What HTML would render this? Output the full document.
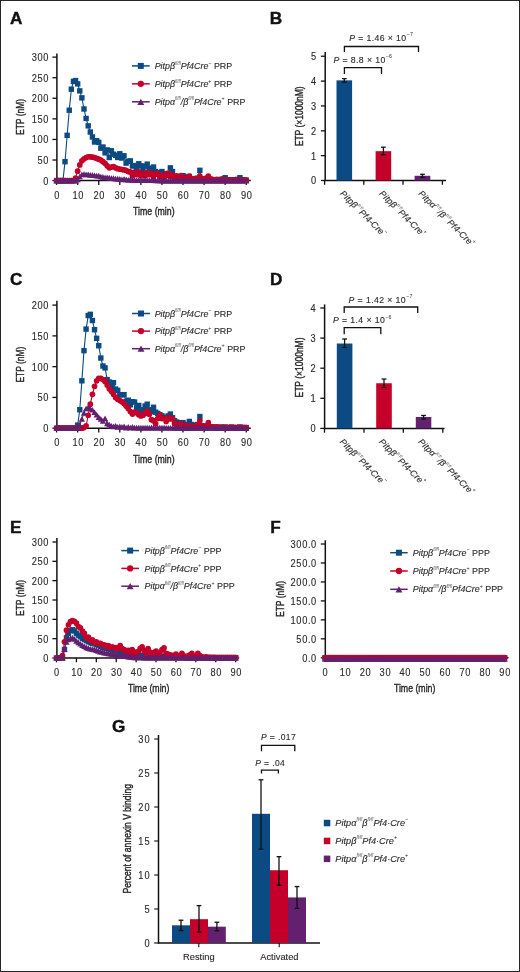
<!DOCTYPE html>
<html><head><meta charset="utf-8"><style>
html,body{margin:0;padding:0;background:#fff;}
body{width:520px;height:972px;position:relative;overflow:hidden;font-family:"Liberation Sans", sans-serif;}
svg{will-change:transform;}
.frame{position:absolute;left:0;top:0;width:518px;height:970px;border:1px solid #262626;pointer-events:none;}
</style></head><body>
<svg width="520" height="972" viewBox="0 0 520 972" style="position:absolute;left:0;top:0;font-family:'Liberation Sans', sans-serif">
<rect x="0" y="0" width="520" height="972" fill="#fff"/>
<g>
<text x="9.90" y="23.90" font-size="17.2" text-anchor="start" fill="#111" font-weight="bold" font-style="normal" stroke="#111" stroke-width="0.4">A</text>
<line x1="56.9" y1="53.4" x2="56.9" y2="181.1" stroke="#111111" stroke-width="1.5"/>
<line x1="56.3" y1="180.6" x2="250.8" y2="180.6" stroke="#111111" stroke-width="1.5"/>
<line x1="52.4" y1="180.60" x2="56.9" y2="180.60" stroke="#111111" stroke-width="1.3"/>
<text transform="translate(49.10,184.50) scale(0.9,1)" x="0" y="0" font-size="10.3" text-anchor="end" fill="#2a2a2a" font-weight="normal" font-style="normal" letter-spacing="0.7" stroke="#2a2a2a" stroke-width="0.12">0</text>
<line x1="52.4" y1="160.02" x2="56.9" y2="160.02" stroke="#111111" stroke-width="1.3"/>
<text transform="translate(49.10,163.92) scale(0.9,1)" x="0" y="0" font-size="10.3" text-anchor="end" fill="#2a2a2a" font-weight="normal" font-style="normal" letter-spacing="0.7" stroke="#2a2a2a" stroke-width="0.12">50</text>
<line x1="52.4" y1="139.44" x2="56.9" y2="139.44" stroke="#111111" stroke-width="1.3"/>
<text transform="translate(49.10,143.34) scale(0.9,1)" x="0" y="0" font-size="10.3" text-anchor="end" fill="#2a2a2a" font-weight="normal" font-style="normal" letter-spacing="0.7" stroke="#2a2a2a" stroke-width="0.12">100</text>
<line x1="52.4" y1="118.86" x2="56.9" y2="118.86" stroke="#111111" stroke-width="1.3"/>
<text transform="translate(49.10,122.76) scale(0.9,1)" x="0" y="0" font-size="10.3" text-anchor="end" fill="#2a2a2a" font-weight="normal" font-style="normal" letter-spacing="0.7" stroke="#2a2a2a" stroke-width="0.12">150</text>
<line x1="52.4" y1="98.28" x2="56.9" y2="98.28" stroke="#111111" stroke-width="1.3"/>
<text transform="translate(49.10,102.18) scale(0.9,1)" x="0" y="0" font-size="10.3" text-anchor="end" fill="#2a2a2a" font-weight="normal" font-style="normal" letter-spacing="0.7" stroke="#2a2a2a" stroke-width="0.12">200</text>
<line x1="52.4" y1="77.70" x2="56.9" y2="77.70" stroke="#111111" stroke-width="1.3"/>
<text transform="translate(49.10,81.60) scale(0.9,1)" x="0" y="0" font-size="10.3" text-anchor="end" fill="#2a2a2a" font-weight="normal" font-style="normal" letter-spacing="0.7" stroke="#2a2a2a" stroke-width="0.12">250</text>
<line x1="52.4" y1="57.12" x2="56.9" y2="57.12" stroke="#111111" stroke-width="1.3"/>
<text transform="translate(49.10,61.02) scale(0.9,1)" x="0" y="0" font-size="10.3" text-anchor="end" fill="#2a2a2a" font-weight="normal" font-style="normal" letter-spacing="0.7" stroke="#2a2a2a" stroke-width="0.12">300</text>
<line x1="56.60" y1="180.6" x2="56.60" y2="184.9" stroke="#111111" stroke-width="1.3"/>
<text transform="translate(57.10,198.70) scale(0.9,1)" x="0" y="0" font-size="10.3" text-anchor="middle" fill="#2a2a2a" font-weight="normal" font-style="normal" letter-spacing="0.7" stroke="#2a2a2a" stroke-width="0.12">0</text>
<line x1="77.67" y1="180.6" x2="77.67" y2="184.9" stroke="#111111" stroke-width="1.3"/>
<text transform="translate(78.17,198.70) scale(0.9,1)" x="0" y="0" font-size="10.3" text-anchor="middle" fill="#2a2a2a" font-weight="normal" font-style="normal" letter-spacing="0.7" stroke="#2a2a2a" stroke-width="0.12">10</text>
<line x1="98.74" y1="180.6" x2="98.74" y2="184.9" stroke="#111111" stroke-width="1.3"/>
<text transform="translate(99.24,198.70) scale(0.9,1)" x="0" y="0" font-size="10.3" text-anchor="middle" fill="#2a2a2a" font-weight="normal" font-style="normal" letter-spacing="0.7" stroke="#2a2a2a" stroke-width="0.12">20</text>
<line x1="119.81" y1="180.6" x2="119.81" y2="184.9" stroke="#111111" stroke-width="1.3"/>
<text transform="translate(120.31,198.70) scale(0.9,1)" x="0" y="0" font-size="10.3" text-anchor="middle" fill="#2a2a2a" font-weight="normal" font-style="normal" letter-spacing="0.7" stroke="#2a2a2a" stroke-width="0.12">30</text>
<line x1="140.88" y1="180.6" x2="140.88" y2="184.9" stroke="#111111" stroke-width="1.3"/>
<text transform="translate(141.38,198.70) scale(0.9,1)" x="0" y="0" font-size="10.3" text-anchor="middle" fill="#2a2a2a" font-weight="normal" font-style="normal" letter-spacing="0.7" stroke="#2a2a2a" stroke-width="0.12">40</text>
<line x1="161.95" y1="180.6" x2="161.95" y2="184.9" stroke="#111111" stroke-width="1.3"/>
<text transform="translate(162.45,198.70) scale(0.9,1)" x="0" y="0" font-size="10.3" text-anchor="middle" fill="#2a2a2a" font-weight="normal" font-style="normal" letter-spacing="0.7" stroke="#2a2a2a" stroke-width="0.12">50</text>
<line x1="183.02" y1="180.6" x2="183.02" y2="184.9" stroke="#111111" stroke-width="1.3"/>
<text transform="translate(183.52,198.70) scale(0.9,1)" x="0" y="0" font-size="10.3" text-anchor="middle" fill="#2a2a2a" font-weight="normal" font-style="normal" letter-spacing="0.7" stroke="#2a2a2a" stroke-width="0.12">60</text>
<line x1="204.09" y1="180.6" x2="204.09" y2="184.9" stroke="#111111" stroke-width="1.3"/>
<text transform="translate(204.59,198.70) scale(0.9,1)" x="0" y="0" font-size="10.3" text-anchor="middle" fill="#2a2a2a" font-weight="normal" font-style="normal" letter-spacing="0.7" stroke="#2a2a2a" stroke-width="0.12">70</text>
<line x1="225.16" y1="180.6" x2="225.16" y2="184.9" stroke="#111111" stroke-width="1.3"/>
<text transform="translate(225.66,198.70) scale(0.9,1)" x="0" y="0" font-size="10.3" text-anchor="middle" fill="#2a2a2a" font-weight="normal" font-style="normal" letter-spacing="0.7" stroke="#2a2a2a" stroke-width="0.12">80</text>
<line x1="246.23" y1="180.6" x2="246.23" y2="184.9" stroke="#111111" stroke-width="1.3"/>
<text transform="translate(246.73,198.70) scale(0.9,1)" x="0" y="0" font-size="10.3" text-anchor="middle" fill="#2a2a2a" font-weight="normal" font-style="normal" letter-spacing="0.7" stroke="#2a2a2a" stroke-width="0.12">90</text>
<path d="M56.60,180.60L58.71,180.60L60.81,180.60L62.92,180.60L65.03,161.67L67.14,135.32L69.24,110.22L71.35,89.22L73.46,81.40L75.56,80.58L77.67,83.87L79.78,90.87L81.88,97.87L83.99,108.98L86.10,118.45L88.21,125.86L90.31,132.03L92.42,136.97L94.53,141.99L96.63,140.72L98.74,142.38L100.85,148.17L102.95,147.01L105.06,152.82L107.17,149.92L109.28,157.53L111.38,150.76L113.49,154.22L115.60,155.37L117.70,157.49L119.81,153.76L121.92,158.06L124.02,155.80L126.13,163.11L128.24,161.28L130.34,160.90L132.45,166.01L134.56,165.51L136.67,167.51L138.77,163.77L140.88,165.84L142.99,169.49L145.09,166.19L147.20,164.14L149.31,168.25L151.42,170.31L153.52,167.02L155.63,171.54L157.74,172.78L159.84,173.19L161.95,171.54L164.06,173.60L166.16,175.66L168.27,174.43L170.38,167.84L172.49,171.54L174.59,176.48L176.70,177.31L178.81,178.54L180.91,177.31L183.02,175.66L185.13,178.13L187.23,176.90L189.34,176.48L191.45,178.95L193.56,179.37L195.66,178.54L197.77,178.13L199.88,170.31L201.98,178.95L204.09,179.37L206.20,179.78L208.30,179.37L210.41,179.78L212.52,180.19L214.62,179.78L216.73,180.19L218.84,179.78L220.95,179.37L223.05,178.95L225.16,177.72L227.27,179.78L229.37,180.19L231.48,179.78L233.59,180.19L235.70,179.78L237.80,179.37L239.91,177.72L242.02,179.78L244.12,180.19L246.23,180.19" fill="none" stroke="#0b4a82" stroke-width="1.1" stroke-linejoin="round"/>
<rect x="53.90" y="177.90" width="5.4" height="5.4" fill="#0b4a82"/>
<rect x="56.01" y="177.90" width="5.4" height="5.4" fill="#0b4a82"/>
<rect x="58.11" y="177.90" width="5.4" height="5.4" fill="#0b4a82"/>
<rect x="60.22" y="177.90" width="5.4" height="5.4" fill="#0b4a82"/>
<rect x="62.33" y="158.97" width="5.4" height="5.4" fill="#0b4a82"/>
<rect x="64.44" y="132.62" width="5.4" height="5.4" fill="#0b4a82"/>
<rect x="66.54" y="107.52" width="5.4" height="5.4" fill="#0b4a82"/>
<rect x="68.65" y="86.52" width="5.4" height="5.4" fill="#0b4a82"/>
<rect x="70.76" y="78.70" width="5.4" height="5.4" fill="#0b4a82"/>
<rect x="72.86" y="77.88" width="5.4" height="5.4" fill="#0b4a82"/>
<rect x="74.97" y="81.17" width="5.4" height="5.4" fill="#0b4a82"/>
<rect x="77.08" y="88.17" width="5.4" height="5.4" fill="#0b4a82"/>
<rect x="79.18" y="95.17" width="5.4" height="5.4" fill="#0b4a82"/>
<rect x="81.29" y="106.28" width="5.4" height="5.4" fill="#0b4a82"/>
<rect x="83.40" y="115.75" width="5.4" height="5.4" fill="#0b4a82"/>
<rect x="85.51" y="123.16" width="5.4" height="5.4" fill="#0b4a82"/>
<rect x="87.61" y="129.33" width="5.4" height="5.4" fill="#0b4a82"/>
<rect x="89.72" y="134.27" width="5.4" height="5.4" fill="#0b4a82"/>
<rect x="91.83" y="139.29" width="5.4" height="5.4" fill="#0b4a82"/>
<rect x="93.93" y="138.02" width="5.4" height="5.4" fill="#0b4a82"/>
<rect x="96.04" y="139.68" width="5.4" height="5.4" fill="#0b4a82"/>
<rect x="98.15" y="145.47" width="5.4" height="5.4" fill="#0b4a82"/>
<rect x="100.25" y="144.31" width="5.4" height="5.4" fill="#0b4a82"/>
<rect x="102.36" y="150.12" width="5.4" height="5.4" fill="#0b4a82"/>
<rect x="104.47" y="147.22" width="5.4" height="5.4" fill="#0b4a82"/>
<rect x="106.58" y="154.83" width="5.4" height="5.4" fill="#0b4a82"/>
<rect x="108.68" y="148.06" width="5.4" height="5.4" fill="#0b4a82"/>
<rect x="110.79" y="151.52" width="5.4" height="5.4" fill="#0b4a82"/>
<rect x="112.90" y="152.67" width="5.4" height="5.4" fill="#0b4a82"/>
<rect x="115.00" y="154.79" width="5.4" height="5.4" fill="#0b4a82"/>
<rect x="117.11" y="151.06" width="5.4" height="5.4" fill="#0b4a82"/>
<rect x="119.22" y="155.36" width="5.4" height="5.4" fill="#0b4a82"/>
<rect x="121.32" y="153.10" width="5.4" height="5.4" fill="#0b4a82"/>
<rect x="123.43" y="160.41" width="5.4" height="5.4" fill="#0b4a82"/>
<rect x="125.54" y="158.58" width="5.4" height="5.4" fill="#0b4a82"/>
<rect x="127.64" y="158.20" width="5.4" height="5.4" fill="#0b4a82"/>
<rect x="129.75" y="163.31" width="5.4" height="5.4" fill="#0b4a82"/>
<rect x="131.86" y="162.81" width="5.4" height="5.4" fill="#0b4a82"/>
<rect x="133.97" y="164.81" width="5.4" height="5.4" fill="#0b4a82"/>
<rect x="136.07" y="161.07" width="5.4" height="5.4" fill="#0b4a82"/>
<rect x="138.18" y="163.14" width="5.4" height="5.4" fill="#0b4a82"/>
<rect x="140.29" y="166.79" width="5.4" height="5.4" fill="#0b4a82"/>
<rect x="142.39" y="163.49" width="5.4" height="5.4" fill="#0b4a82"/>
<rect x="144.50" y="161.44" width="5.4" height="5.4" fill="#0b4a82"/>
<rect x="146.61" y="165.55" width="5.4" height="5.4" fill="#0b4a82"/>
<rect x="148.72" y="167.61" width="5.4" height="5.4" fill="#0b4a82"/>
<rect x="150.82" y="164.32" width="5.4" height="5.4" fill="#0b4a82"/>
<rect x="152.93" y="168.84" width="5.4" height="5.4" fill="#0b4a82"/>
<rect x="155.04" y="170.08" width="5.4" height="5.4" fill="#0b4a82"/>
<rect x="157.14" y="170.49" width="5.4" height="5.4" fill="#0b4a82"/>
<rect x="159.25" y="168.84" width="5.4" height="5.4" fill="#0b4a82"/>
<rect x="161.36" y="170.90" width="5.4" height="5.4" fill="#0b4a82"/>
<rect x="163.46" y="172.96" width="5.4" height="5.4" fill="#0b4a82"/>
<rect x="165.57" y="171.73" width="5.4" height="5.4" fill="#0b4a82"/>
<rect x="167.68" y="165.14" width="5.4" height="5.4" fill="#0b4a82"/>
<rect x="169.79" y="168.84" width="5.4" height="5.4" fill="#0b4a82"/>
<rect x="171.89" y="173.78" width="5.4" height="5.4" fill="#0b4a82"/>
<rect x="174.00" y="174.61" width="5.4" height="5.4" fill="#0b4a82"/>
<rect x="176.11" y="175.84" width="5.4" height="5.4" fill="#0b4a82"/>
<rect x="178.21" y="174.61" width="5.4" height="5.4" fill="#0b4a82"/>
<rect x="180.32" y="172.96" width="5.4" height="5.4" fill="#0b4a82"/>
<rect x="182.43" y="175.43" width="5.4" height="5.4" fill="#0b4a82"/>
<rect x="184.53" y="174.20" width="5.4" height="5.4" fill="#0b4a82"/>
<rect x="186.64" y="173.78" width="5.4" height="5.4" fill="#0b4a82"/>
<rect x="188.75" y="176.25" width="5.4" height="5.4" fill="#0b4a82"/>
<rect x="190.86" y="176.67" width="5.4" height="5.4" fill="#0b4a82"/>
<rect x="192.96" y="175.84" width="5.4" height="5.4" fill="#0b4a82"/>
<rect x="195.07" y="175.43" width="5.4" height="5.4" fill="#0b4a82"/>
<rect x="197.18" y="167.61" width="5.4" height="5.4" fill="#0b4a82"/>
<rect x="199.28" y="176.25" width="5.4" height="5.4" fill="#0b4a82"/>
<rect x="201.39" y="176.67" width="5.4" height="5.4" fill="#0b4a82"/>
<rect x="203.50" y="177.08" width="5.4" height="5.4" fill="#0b4a82"/>
<rect x="205.60" y="176.67" width="5.4" height="5.4" fill="#0b4a82"/>
<rect x="207.71" y="177.08" width="5.4" height="5.4" fill="#0b4a82"/>
<rect x="209.82" y="177.49" width="5.4" height="5.4" fill="#0b4a82"/>
<rect x="211.93" y="177.08" width="5.4" height="5.4" fill="#0b4a82"/>
<rect x="214.03" y="177.49" width="5.4" height="5.4" fill="#0b4a82"/>
<rect x="216.14" y="177.08" width="5.4" height="5.4" fill="#0b4a82"/>
<rect x="218.25" y="176.67" width="5.4" height="5.4" fill="#0b4a82"/>
<rect x="220.35" y="176.25" width="5.4" height="5.4" fill="#0b4a82"/>
<rect x="222.46" y="175.02" width="5.4" height="5.4" fill="#0b4a82"/>
<rect x="224.57" y="177.08" width="5.4" height="5.4" fill="#0b4a82"/>
<rect x="226.67" y="177.49" width="5.4" height="5.4" fill="#0b4a82"/>
<rect x="228.78" y="177.08" width="5.4" height="5.4" fill="#0b4a82"/>
<rect x="230.89" y="177.49" width="5.4" height="5.4" fill="#0b4a82"/>
<rect x="233.00" y="177.08" width="5.4" height="5.4" fill="#0b4a82"/>
<rect x="235.10" y="176.67" width="5.4" height="5.4" fill="#0b4a82"/>
<rect x="237.21" y="175.02" width="5.4" height="5.4" fill="#0b4a82"/>
<rect x="239.32" y="177.08" width="5.4" height="5.4" fill="#0b4a82"/>
<rect x="241.42" y="177.49" width="5.4" height="5.4" fill="#0b4a82"/>
<rect x="243.53" y="177.49" width="5.4" height="5.4" fill="#0b4a82"/>
<path d="M56.60,180.60L58.71,180.60L60.81,180.60L62.92,180.60L65.03,180.60L67.14,180.60L69.24,180.60L71.35,180.60L73.46,180.60L75.56,178.13L77.67,171.13L79.78,164.96L81.88,160.84L83.99,158.79L86.10,157.55L88.21,156.73L90.31,156.73L92.42,157.14L94.53,157.55L96.63,158.37L98.74,159.20L100.85,160.02L102.95,161.67L105.06,163.31L107.17,165.78L109.28,167.84L111.38,167.02L113.49,166.61L115.60,167.84L117.70,168.66L119.81,169.08L121.92,169.49L124.02,169.90L126.13,170.31L128.24,171.54L130.34,171.96L132.45,175.66L134.56,172.16L136.67,174.63L138.77,171.96L140.88,175.66L142.99,173.60L145.09,175.87L147.20,172.37L149.31,174.63L151.42,172.99L153.52,176.48L155.63,174.22L157.74,173.40L159.84,176.69L161.95,175.04L164.06,177.31L166.16,174.01L168.27,172.99L170.38,176.48L172.49,174.84L174.59,178.95L176.70,175.87L178.81,177.92L180.91,175.66L183.02,179.37L185.13,178.13L187.23,179.16L189.34,176.07L191.45,178.54L193.56,178.95L195.66,178.95L197.77,178.54L199.88,176.07L201.98,178.95L204.09,178.95L206.20,178.13L208.30,176.07L210.41,178.95L212.52,179.37L214.62,179.78L216.73,179.37L218.84,179.78L220.95,179.78L223.05,179.37L225.16,179.78L227.27,179.78L229.37,179.78L231.48,180.19L233.59,179.78L235.70,180.19L237.80,179.78L239.91,180.19L242.02,180.19L244.12,180.19L246.23,180.19" fill="none" stroke="#c4002a" stroke-width="1.1" stroke-linejoin="round"/>
<circle cx="56.60" cy="180.60" r="2.85" fill="#c4002a"/>
<circle cx="58.71" cy="180.60" r="2.85" fill="#c4002a"/>
<circle cx="60.81" cy="180.60" r="2.85" fill="#c4002a"/>
<circle cx="62.92" cy="180.60" r="2.85" fill="#c4002a"/>
<circle cx="65.03" cy="180.60" r="2.85" fill="#c4002a"/>
<circle cx="67.14" cy="180.60" r="2.85" fill="#c4002a"/>
<circle cx="69.24" cy="180.60" r="2.85" fill="#c4002a"/>
<circle cx="71.35" cy="180.60" r="2.85" fill="#c4002a"/>
<circle cx="73.46" cy="180.60" r="2.85" fill="#c4002a"/>
<circle cx="75.56" cy="178.13" r="2.85" fill="#c4002a"/>
<circle cx="77.67" cy="171.13" r="2.85" fill="#c4002a"/>
<circle cx="79.78" cy="164.96" r="2.85" fill="#c4002a"/>
<circle cx="81.88" cy="160.84" r="2.85" fill="#c4002a"/>
<circle cx="83.99" cy="158.79" r="2.85" fill="#c4002a"/>
<circle cx="86.10" cy="157.55" r="2.85" fill="#c4002a"/>
<circle cx="88.21" cy="156.73" r="2.85" fill="#c4002a"/>
<circle cx="90.31" cy="156.73" r="2.85" fill="#c4002a"/>
<circle cx="92.42" cy="157.14" r="2.85" fill="#c4002a"/>
<circle cx="94.53" cy="157.55" r="2.85" fill="#c4002a"/>
<circle cx="96.63" cy="158.37" r="2.85" fill="#c4002a"/>
<circle cx="98.74" cy="159.20" r="2.85" fill="#c4002a"/>
<circle cx="100.85" cy="160.02" r="2.85" fill="#c4002a"/>
<circle cx="102.95" cy="161.67" r="2.85" fill="#c4002a"/>
<circle cx="105.06" cy="163.31" r="2.85" fill="#c4002a"/>
<circle cx="107.17" cy="165.78" r="2.85" fill="#c4002a"/>
<circle cx="109.28" cy="167.84" r="2.85" fill="#c4002a"/>
<circle cx="111.38" cy="167.02" r="2.85" fill="#c4002a"/>
<circle cx="113.49" cy="166.61" r="2.85" fill="#c4002a"/>
<circle cx="115.60" cy="167.84" r="2.85" fill="#c4002a"/>
<circle cx="117.70" cy="168.66" r="2.85" fill="#c4002a"/>
<circle cx="119.81" cy="169.08" r="2.85" fill="#c4002a"/>
<circle cx="121.92" cy="169.49" r="2.85" fill="#c4002a"/>
<circle cx="124.02" cy="169.90" r="2.85" fill="#c4002a"/>
<circle cx="126.13" cy="170.31" r="2.85" fill="#c4002a"/>
<circle cx="128.24" cy="171.54" r="2.85" fill="#c4002a"/>
<circle cx="130.34" cy="171.96" r="2.85" fill="#c4002a"/>
<circle cx="132.45" cy="175.66" r="2.85" fill="#c4002a"/>
<circle cx="134.56" cy="172.16" r="2.85" fill="#c4002a"/>
<circle cx="136.67" cy="174.63" r="2.85" fill="#c4002a"/>
<circle cx="138.77" cy="171.96" r="2.85" fill="#c4002a"/>
<circle cx="140.88" cy="175.66" r="2.85" fill="#c4002a"/>
<circle cx="142.99" cy="173.60" r="2.85" fill="#c4002a"/>
<circle cx="145.09" cy="175.87" r="2.85" fill="#c4002a"/>
<circle cx="147.20" cy="172.37" r="2.85" fill="#c4002a"/>
<circle cx="149.31" cy="174.63" r="2.85" fill="#c4002a"/>
<circle cx="151.42" cy="172.99" r="2.85" fill="#c4002a"/>
<circle cx="153.52" cy="176.48" r="2.85" fill="#c4002a"/>
<circle cx="155.63" cy="174.22" r="2.85" fill="#c4002a"/>
<circle cx="157.74" cy="173.40" r="2.85" fill="#c4002a"/>
<circle cx="159.84" cy="176.69" r="2.85" fill="#c4002a"/>
<circle cx="161.95" cy="175.04" r="2.85" fill="#c4002a"/>
<circle cx="164.06" cy="177.31" r="2.85" fill="#c4002a"/>
<circle cx="166.16" cy="174.01" r="2.85" fill="#c4002a"/>
<circle cx="168.27" cy="172.99" r="2.85" fill="#c4002a"/>
<circle cx="170.38" cy="176.48" r="2.85" fill="#c4002a"/>
<circle cx="172.49" cy="174.84" r="2.85" fill="#c4002a"/>
<circle cx="174.59" cy="178.95" r="2.85" fill="#c4002a"/>
<circle cx="176.70" cy="175.87" r="2.85" fill="#c4002a"/>
<circle cx="178.81" cy="177.92" r="2.85" fill="#c4002a"/>
<circle cx="180.91" cy="175.66" r="2.85" fill="#c4002a"/>
<circle cx="183.02" cy="179.37" r="2.85" fill="#c4002a"/>
<circle cx="185.13" cy="178.13" r="2.85" fill="#c4002a"/>
<circle cx="187.23" cy="179.16" r="2.85" fill="#c4002a"/>
<circle cx="189.34" cy="176.07" r="2.85" fill="#c4002a"/>
<circle cx="191.45" cy="178.54" r="2.85" fill="#c4002a"/>
<circle cx="193.56" cy="178.95" r="2.85" fill="#c4002a"/>
<circle cx="195.66" cy="178.95" r="2.85" fill="#c4002a"/>
<circle cx="197.77" cy="178.54" r="2.85" fill="#c4002a"/>
<circle cx="199.88" cy="176.07" r="2.85" fill="#c4002a"/>
<circle cx="201.98" cy="178.95" r="2.85" fill="#c4002a"/>
<circle cx="204.09" cy="178.95" r="2.85" fill="#c4002a"/>
<circle cx="206.20" cy="178.13" r="2.85" fill="#c4002a"/>
<circle cx="208.30" cy="176.07" r="2.85" fill="#c4002a"/>
<circle cx="210.41" cy="178.95" r="2.85" fill="#c4002a"/>
<circle cx="212.52" cy="179.37" r="2.85" fill="#c4002a"/>
<circle cx="214.62" cy="179.78" r="2.85" fill="#c4002a"/>
<circle cx="216.73" cy="179.37" r="2.85" fill="#c4002a"/>
<circle cx="218.84" cy="179.78" r="2.85" fill="#c4002a"/>
<circle cx="220.95" cy="179.78" r="2.85" fill="#c4002a"/>
<circle cx="223.05" cy="179.37" r="2.85" fill="#c4002a"/>
<circle cx="225.16" cy="179.78" r="2.85" fill="#c4002a"/>
<circle cx="227.27" cy="179.78" r="2.85" fill="#c4002a"/>
<circle cx="229.37" cy="179.78" r="2.85" fill="#c4002a"/>
<circle cx="231.48" cy="180.19" r="2.85" fill="#c4002a"/>
<circle cx="233.59" cy="179.78" r="2.85" fill="#c4002a"/>
<circle cx="235.70" cy="180.19" r="2.85" fill="#c4002a"/>
<circle cx="237.80" cy="179.78" r="2.85" fill="#c4002a"/>
<circle cx="239.91" cy="180.19" r="2.85" fill="#c4002a"/>
<circle cx="242.02" cy="180.19" r="2.85" fill="#c4002a"/>
<circle cx="244.12" cy="180.19" r="2.85" fill="#c4002a"/>
<circle cx="246.23" cy="180.19" r="2.85" fill="#c4002a"/>
<path d="M56.60,180.60L58.71,180.60L60.81,180.60L62.92,180.60L65.03,180.60L67.14,180.60L69.24,180.60L71.35,180.60L73.46,180.60L75.56,180.60L77.67,179.37L79.78,176.48L81.88,174.43L83.99,174.01L86.10,174.43L88.21,174.43L90.31,174.84L92.42,174.84L94.53,175.25L96.63,175.66L98.74,175.66L100.85,176.48L102.95,176.90L105.06,177.31L107.17,177.31L109.28,177.72L111.38,178.13L113.49,178.13L115.60,178.54L117.70,178.54L119.81,178.95L121.92,179.37L124.02,178.95L126.13,179.37L128.24,179.78L130.34,179.37L132.45,179.78L134.56,179.78L136.67,180.19L138.77,179.78L140.88,180.19L142.99,180.19L145.09,180.19L147.20,180.19L149.31,180.19L151.42,180.19L153.52,180.27L155.63,180.35L157.74,180.44L159.84,180.52L161.95,180.60L164.06,180.60L166.16,180.60L168.27,180.60L170.38,180.60L172.49,180.60L174.59,180.60L176.70,180.60L178.81,180.60L180.91,180.60L183.02,180.60L185.13,180.60L187.23,180.60L189.34,180.60L191.45,180.60L193.56,180.60L195.66,180.60L197.77,180.60L199.88,180.60L201.98,180.60L204.09,180.60L206.20,180.60L208.30,180.60L210.41,180.60L212.52,180.60L214.62,180.60L216.73,180.60L218.84,180.60L220.95,180.60L223.05,180.60L225.16,180.60L227.27,180.60L229.37,180.60L231.48,180.60L233.59,180.60L235.70,180.60L237.80,180.60L239.91,180.60L242.02,180.60L244.12,180.60L246.23,180.60" fill="none" stroke="#62206f" stroke-width="1.1" stroke-linejoin="round"/>
<path d="M53.45,183.45L59.75,183.45L56.60,177.75Z" fill="#62206f"/>
<path d="M55.56,183.45L61.86,183.45L58.71,177.75Z" fill="#62206f"/>
<path d="M57.66,183.45L63.96,183.45L60.81,177.75Z" fill="#62206f"/>
<path d="M59.77,183.45L66.07,183.45L62.92,177.75Z" fill="#62206f"/>
<path d="M61.88,183.45L68.18,183.45L65.03,177.75Z" fill="#62206f"/>
<path d="M63.99,183.45L70.29,183.45L67.14,177.75Z" fill="#62206f"/>
<path d="M66.09,183.45L72.39,183.45L69.24,177.75Z" fill="#62206f"/>
<path d="M68.20,183.45L74.50,183.45L71.35,177.75Z" fill="#62206f"/>
<path d="M70.31,183.45L76.61,183.45L73.46,177.75Z" fill="#62206f"/>
<path d="M72.41,183.45L78.71,183.45L75.56,177.75Z" fill="#62206f"/>
<path d="M74.52,182.22L80.82,182.22L77.67,176.52Z" fill="#62206f"/>
<path d="M76.63,179.33L82.93,179.33L79.78,173.63Z" fill="#62206f"/>
<path d="M78.73,177.28L85.03,177.28L81.88,171.58Z" fill="#62206f"/>
<path d="M80.84,176.86L87.14,176.86L83.99,171.16Z" fill="#62206f"/>
<path d="M82.95,177.28L89.25,177.28L86.10,171.58Z" fill="#62206f"/>
<path d="M85.06,177.28L91.36,177.28L88.21,171.58Z" fill="#62206f"/>
<path d="M87.16,177.69L93.46,177.69L90.31,171.99Z" fill="#62206f"/>
<path d="M89.27,177.69L95.57,177.69L92.42,171.99Z" fill="#62206f"/>
<path d="M91.38,178.10L97.68,178.10L94.53,172.40Z" fill="#62206f"/>
<path d="M93.48,178.51L99.78,178.51L96.63,172.81Z" fill="#62206f"/>
<path d="M95.59,178.51L101.89,178.51L98.74,172.81Z" fill="#62206f"/>
<path d="M97.70,179.33L104.00,179.33L100.85,173.63Z" fill="#62206f"/>
<path d="M99.80,179.75L106.10,179.75L102.95,174.05Z" fill="#62206f"/>
<path d="M101.91,180.16L108.21,180.16L105.06,174.46Z" fill="#62206f"/>
<path d="M104.02,180.16L110.32,180.16L107.17,174.46Z" fill="#62206f"/>
<path d="M106.12,180.57L112.43,180.57L109.28,174.87Z" fill="#62206f"/>
<path d="M108.23,180.98L114.53,180.98L111.38,175.28Z" fill="#62206f"/>
<path d="M110.34,180.98L116.64,180.98L113.49,175.28Z" fill="#62206f"/>
<path d="M112.45,181.39L118.75,181.39L115.60,175.69Z" fill="#62206f"/>
<path d="M114.55,181.39L120.85,181.39L117.70,175.69Z" fill="#62206f"/>
<path d="M116.66,181.80L122.96,181.80L119.81,176.10Z" fill="#62206f"/>
<path d="M118.77,182.22L125.07,182.22L121.92,176.52Z" fill="#62206f"/>
<path d="M120.87,181.80L127.17,181.80L124.02,176.10Z" fill="#62206f"/>
<path d="M122.98,182.22L129.28,182.22L126.13,176.52Z" fill="#62206f"/>
<path d="M125.09,182.63L131.39,182.63L128.24,176.93Z" fill="#62206f"/>
<path d="M127.19,182.22L133.50,182.22L130.34,176.52Z" fill="#62206f"/>
<path d="M129.30,182.63L135.60,182.63L132.45,176.93Z" fill="#62206f"/>
<path d="M131.41,182.63L137.71,182.63L134.56,176.93Z" fill="#62206f"/>
<path d="M133.52,183.04L139.82,183.04L136.67,177.34Z" fill="#62206f"/>
<path d="M135.62,182.63L141.92,182.63L138.77,176.93Z" fill="#62206f"/>
<path d="M137.73,183.04L144.03,183.04L140.88,177.34Z" fill="#62206f"/>
<path d="M139.84,183.04L146.14,183.04L142.99,177.34Z" fill="#62206f"/>
<path d="M141.94,183.04L148.24,183.04L145.09,177.34Z" fill="#62206f"/>
<path d="M144.05,183.04L150.35,183.04L147.20,177.34Z" fill="#62206f"/>
<path d="M146.16,183.04L152.46,183.04L149.31,177.34Z" fill="#62206f"/>
<path d="M148.27,183.04L154.57,183.04L151.42,177.34Z" fill="#62206f"/>
<path d="M150.37,183.12L156.67,183.12L153.52,177.42Z" fill="#62206f"/>
<path d="M152.48,183.20L158.78,183.20L155.63,177.50Z" fill="#62206f"/>
<path d="M154.59,183.29L160.89,183.29L157.74,177.59Z" fill="#62206f"/>
<path d="M156.69,183.37L162.99,183.37L159.84,177.67Z" fill="#62206f"/>
<path d="M158.80,183.45L165.10,183.45L161.95,177.75Z" fill="#62206f"/>
<path d="M160.91,183.45L167.21,183.45L164.06,177.75Z" fill="#62206f"/>
<path d="M163.01,183.45L169.31,183.45L166.16,177.75Z" fill="#62206f"/>
<path d="M165.12,183.45L171.42,183.45L168.27,177.75Z" fill="#62206f"/>
<path d="M167.23,183.45L173.53,183.45L170.38,177.75Z" fill="#62206f"/>
<path d="M169.34,183.45L175.64,183.45L172.49,177.75Z" fill="#62206f"/>
<path d="M171.44,183.45L177.74,183.45L174.59,177.75Z" fill="#62206f"/>
<path d="M173.55,183.45L179.85,183.45L176.70,177.75Z" fill="#62206f"/>
<path d="M175.66,183.45L181.96,183.45L178.81,177.75Z" fill="#62206f"/>
<path d="M177.76,183.45L184.06,183.45L180.91,177.75Z" fill="#62206f"/>
<path d="M179.87,183.45L186.17,183.45L183.02,177.75Z" fill="#62206f"/>
<path d="M181.98,183.45L188.28,183.45L185.13,177.75Z" fill="#62206f"/>
<path d="M184.08,183.45L190.38,183.45L187.23,177.75Z" fill="#62206f"/>
<path d="M186.19,183.45L192.49,183.45L189.34,177.75Z" fill="#62206f"/>
<path d="M188.30,183.45L194.60,183.45L191.45,177.75Z" fill="#62206f"/>
<path d="M190.41,183.45L196.71,183.45L193.56,177.75Z" fill="#62206f"/>
<path d="M192.51,183.45L198.81,183.45L195.66,177.75Z" fill="#62206f"/>
<path d="M194.62,183.45L200.92,183.45L197.77,177.75Z" fill="#62206f"/>
<path d="M196.73,183.45L203.03,183.45L199.88,177.75Z" fill="#62206f"/>
<path d="M198.83,183.45L205.13,183.45L201.98,177.75Z" fill="#62206f"/>
<path d="M200.94,183.45L207.24,183.45L204.09,177.75Z" fill="#62206f"/>
<path d="M203.05,183.45L209.35,183.45L206.20,177.75Z" fill="#62206f"/>
<path d="M205.15,183.45L211.45,183.45L208.30,177.75Z" fill="#62206f"/>
<path d="M207.26,183.45L213.56,183.45L210.41,177.75Z" fill="#62206f"/>
<path d="M209.37,183.45L215.67,183.45L212.52,177.75Z" fill="#62206f"/>
<path d="M211.47,183.45L217.78,183.45L214.62,177.75Z" fill="#62206f"/>
<path d="M213.58,183.45L219.88,183.45L216.73,177.75Z" fill="#62206f"/>
<path d="M215.69,183.45L221.99,183.45L218.84,177.75Z" fill="#62206f"/>
<path d="M217.80,183.45L224.10,183.45L220.95,177.75Z" fill="#62206f"/>
<path d="M219.90,183.45L226.20,183.45L223.05,177.75Z" fill="#62206f"/>
<path d="M222.01,183.45L228.31,183.45L225.16,177.75Z" fill="#62206f"/>
<path d="M224.12,183.45L230.42,183.45L227.27,177.75Z" fill="#62206f"/>
<path d="M226.22,183.45L232.52,183.45L229.37,177.75Z" fill="#62206f"/>
<path d="M228.33,183.45L234.63,183.45L231.48,177.75Z" fill="#62206f"/>
<path d="M230.44,183.45L236.74,183.45L233.59,177.75Z" fill="#62206f"/>
<path d="M232.55,183.45L238.85,183.45L235.70,177.75Z" fill="#62206f"/>
<path d="M234.65,183.45L240.95,183.45L237.80,177.75Z" fill="#62206f"/>
<path d="M236.76,183.45L243.06,183.45L239.91,177.75Z" fill="#62206f"/>
<path d="M238.87,183.45L245.17,183.45L242.02,177.75Z" fill="#62206f"/>
<path d="M240.97,183.45L247.27,183.45L244.12,177.75Z" fill="#62206f"/>
<path d="M243.08,183.45L249.38,183.45L246.23,177.75Z" fill="#62206f"/>
<text transform="translate(23.60,117.00) rotate(-90)" x="0" y="0" font-size="11.5" font-weight="normal" stroke="#222222" stroke-width="0.4" text-anchor="middle" fill="#2a2a2a" textLength="36" lengthAdjust="spacingAndGlyphs">ETP (nM)</text>
<text x="133.10" y="215.00" font-size="11.8" font-weight="normal" stroke="#222222" stroke-width="0.4" fill="#2a2a2a" textLength="41.5" lengthAdjust="spacingAndGlyphs">Time (min)</text>
<line x1="131.9" y1="65.90" x2="149.7" y2="65.90" stroke="#0b4a82" stroke-width="1.5"/>
<rect x="137.80" y="62.90" width="6.0" height="6.0" fill="#0b4a82"/>
<text x="154.70" y="69.00" fill="#2a2a2a" stroke="#2a2a2a" stroke-width="0.12" text-anchor="start" ><tspan font-style="italic" font-size="8.90">Pitpβ</tspan><tspan font-style="italic" font-size="4.45" dy="-4.45" fill="#555" stroke="none">fl/fl</tspan><tspan font-style="italic" font-size="8.90" dy="4.45">Pf4Cre</tspan><tspan font-style="normal" font-size="5.34" dy="-4.45" stroke="none">−</tspan><tspan font-style="normal" font-size="8.90" dy="4.45"> PRP</tspan></text>
<line x1="131.9" y1="83.85" x2="149.7" y2="83.85" stroke="#c4002a" stroke-width="1.5"/>
<circle cx="140.80" cy="83.85" r="3.15" fill="#c4002a"/>
<text x="154.70" y="86.95" fill="#2a2a2a" stroke="#2a2a2a" stroke-width="0.12" text-anchor="start" ><tspan font-style="italic" font-size="8.90">Pitpβ</tspan><tspan font-style="italic" font-size="4.45" dy="-4.45" fill="#555" stroke="none">fl/fl</tspan><tspan font-style="italic" font-size="8.90" dy="4.45">Pf4Cre</tspan><tspan font-style="normal" font-size="5.34" dy="-4.45" stroke="none">+</tspan><tspan font-style="normal" font-size="8.90" dy="4.45"> PRP</tspan></text>
<line x1="131.9" y1="101.80" x2="149.7" y2="101.80" stroke="#62206f" stroke-width="1.5"/>
<path d="M137.35,104.95L144.25,104.95L140.80,98.65Z" fill="#62206f"/>
<text x="154.70" y="104.90" fill="#2a2a2a" stroke="#2a2a2a" stroke-width="0.12" text-anchor="start" ><tspan font-style="italic" font-size="8.90">Pitpα</tspan><tspan font-style="italic" font-size="4.45" dy="-4.45" fill="#555" stroke="none">fl/fl</tspan><tspan font-style="italic" font-size="8.90" dy="4.45">/β</tspan><tspan font-style="italic" font-size="4.45" dy="-4.45" fill="#555" stroke="none">fl/fl</tspan><tspan font-style="italic" font-size="8.90" dy="4.45">Pf4Cre</tspan><tspan font-style="normal" font-size="5.34" dy="-4.45" stroke="none">+</tspan><tspan font-style="normal" font-size="8.90" dy="4.45"> PRP</tspan></text>
<text x="9.90" y="285.40" font-size="17.2" text-anchor="start" fill="#111" font-weight="bold" font-style="normal" stroke="#111" stroke-width="0.4">C</text>
<line x1="56.9" y1="300.8" x2="56.9" y2="428.7" stroke="#111111" stroke-width="1.5"/>
<line x1="56.3" y1="428.2" x2="250.8" y2="428.2" stroke="#111111" stroke-width="1.5"/>
<line x1="52.4" y1="428.20" x2="56.9" y2="428.20" stroke="#111111" stroke-width="1.3"/>
<text transform="translate(49.10,432.10) scale(0.9,1)" x="0" y="0" font-size="10.3" text-anchor="end" fill="#2a2a2a" font-weight="normal" font-style="normal" letter-spacing="0.7" stroke="#2a2a2a" stroke-width="0.12">0</text>
<line x1="52.4" y1="397.43" x2="56.9" y2="397.43" stroke="#111111" stroke-width="1.3"/>
<text transform="translate(49.10,401.32) scale(0.9,1)" x="0" y="0" font-size="10.3" text-anchor="end" fill="#2a2a2a" font-weight="normal" font-style="normal" letter-spacing="0.7" stroke="#2a2a2a" stroke-width="0.12">50</text>
<line x1="52.4" y1="366.65" x2="56.9" y2="366.65" stroke="#111111" stroke-width="1.3"/>
<text transform="translate(49.10,370.55) scale(0.9,1)" x="0" y="0" font-size="10.3" text-anchor="end" fill="#2a2a2a" font-weight="normal" font-style="normal" letter-spacing="0.7" stroke="#2a2a2a" stroke-width="0.12">100</text>
<line x1="52.4" y1="335.88" x2="56.9" y2="335.88" stroke="#111111" stroke-width="1.3"/>
<text transform="translate(49.10,339.77) scale(0.9,1)" x="0" y="0" font-size="10.3" text-anchor="end" fill="#2a2a2a" font-weight="normal" font-style="normal" letter-spacing="0.7" stroke="#2a2a2a" stroke-width="0.12">150</text>
<line x1="52.4" y1="305.10" x2="56.9" y2="305.10" stroke="#111111" stroke-width="1.3"/>
<text transform="translate(49.10,309.00) scale(0.9,1)" x="0" y="0" font-size="10.3" text-anchor="end" fill="#2a2a2a" font-weight="normal" font-style="normal" letter-spacing="0.7" stroke="#2a2a2a" stroke-width="0.12">200</text>
<line x1="56.60" y1="428.2" x2="56.60" y2="432.5" stroke="#111111" stroke-width="1.3"/>
<text transform="translate(57.10,446.30) scale(0.9,1)" x="0" y="0" font-size="10.3" text-anchor="middle" fill="#2a2a2a" font-weight="normal" font-style="normal" letter-spacing="0.7" stroke="#2a2a2a" stroke-width="0.12">0</text>
<line x1="77.67" y1="428.2" x2="77.67" y2="432.5" stroke="#111111" stroke-width="1.3"/>
<text transform="translate(78.17,446.30) scale(0.9,1)" x="0" y="0" font-size="10.3" text-anchor="middle" fill="#2a2a2a" font-weight="normal" font-style="normal" letter-spacing="0.7" stroke="#2a2a2a" stroke-width="0.12">10</text>
<line x1="98.74" y1="428.2" x2="98.74" y2="432.5" stroke="#111111" stroke-width="1.3"/>
<text transform="translate(99.24,446.30) scale(0.9,1)" x="0" y="0" font-size="10.3" text-anchor="middle" fill="#2a2a2a" font-weight="normal" font-style="normal" letter-spacing="0.7" stroke="#2a2a2a" stroke-width="0.12">20</text>
<line x1="119.81" y1="428.2" x2="119.81" y2="432.5" stroke="#111111" stroke-width="1.3"/>
<text transform="translate(120.31,446.30) scale(0.9,1)" x="0" y="0" font-size="10.3" text-anchor="middle" fill="#2a2a2a" font-weight="normal" font-style="normal" letter-spacing="0.7" stroke="#2a2a2a" stroke-width="0.12">30</text>
<line x1="140.88" y1="428.2" x2="140.88" y2="432.5" stroke="#111111" stroke-width="1.3"/>
<text transform="translate(141.38,446.30) scale(0.9,1)" x="0" y="0" font-size="10.3" text-anchor="middle" fill="#2a2a2a" font-weight="normal" font-style="normal" letter-spacing="0.7" stroke="#2a2a2a" stroke-width="0.12">40</text>
<line x1="161.95" y1="428.2" x2="161.95" y2="432.5" stroke="#111111" stroke-width="1.3"/>
<text transform="translate(162.45,446.30) scale(0.9,1)" x="0" y="0" font-size="10.3" text-anchor="middle" fill="#2a2a2a" font-weight="normal" font-style="normal" letter-spacing="0.7" stroke="#2a2a2a" stroke-width="0.12">50</text>
<line x1="183.02" y1="428.2" x2="183.02" y2="432.5" stroke="#111111" stroke-width="1.3"/>
<text transform="translate(183.52,446.30) scale(0.9,1)" x="0" y="0" font-size="10.3" text-anchor="middle" fill="#2a2a2a" font-weight="normal" font-style="normal" letter-spacing="0.7" stroke="#2a2a2a" stroke-width="0.12">60</text>
<line x1="204.09" y1="428.2" x2="204.09" y2="432.5" stroke="#111111" stroke-width="1.3"/>
<text transform="translate(204.59,446.30) scale(0.9,1)" x="0" y="0" font-size="10.3" text-anchor="middle" fill="#2a2a2a" font-weight="normal" font-style="normal" letter-spacing="0.7" stroke="#2a2a2a" stroke-width="0.12">70</text>
<line x1="225.16" y1="428.2" x2="225.16" y2="432.5" stroke="#111111" stroke-width="1.3"/>
<text transform="translate(225.66,446.30) scale(0.9,1)" x="0" y="0" font-size="10.3" text-anchor="middle" fill="#2a2a2a" font-weight="normal" font-style="normal" letter-spacing="0.7" stroke="#2a2a2a" stroke-width="0.12">80</text>
<line x1="246.23" y1="428.2" x2="246.23" y2="432.5" stroke="#111111" stroke-width="1.3"/>
<text transform="translate(246.73,446.30) scale(0.9,1)" x="0" y="0" font-size="10.3" text-anchor="middle" fill="#2a2a2a" font-weight="normal" font-style="normal" letter-spacing="0.7" stroke="#2a2a2a" stroke-width="0.12">90</text>
<path d="M56.60,428.20L58.71,428.20L60.81,428.20L62.92,428.20L65.03,428.20L67.14,428.20L69.24,428.20L71.35,428.20L73.46,428.20L75.56,428.20L77.67,425.12L79.78,409.74L81.88,380.81L83.99,350.65L86.10,329.10L88.21,315.56L90.31,314.33L92.42,320.49L94.53,329.72L96.63,338.34L98.74,345.72L100.85,358.03L102.95,366.03L105.06,367.88L107.17,379.58L109.28,382.04L111.38,386.65L113.49,382.65L115.60,389.12L117.70,390.35L119.81,394.96L121.92,394.66L124.02,394.66L126.13,401.43L128.24,400.19L130.34,404.81L132.45,401.73L134.56,402.04L136.67,407.89L138.77,405.43L140.88,410.97L142.99,409.74L145.09,406.04L147.20,404.20L149.31,409.74L151.42,411.58L153.52,407.27L155.63,412.20L157.74,413.43L159.84,414.66L161.95,415.89L164.06,418.35L166.16,417.12L168.27,415.89L170.38,414.04L172.49,417.74L174.59,420.81L176.70,422.05L178.81,423.28L180.91,422.66L183.02,422.66L185.13,424.51L187.23,425.12L189.34,421.43L191.45,424.51L193.56,425.12L195.66,426.35L197.77,424.51L199.88,416.51L201.98,425.74L204.09,426.35L206.20,426.97L208.30,426.35L210.41,426.97L212.52,427.58L214.62,426.97L216.73,427.58L218.84,427.58L220.95,426.97L223.05,427.58L225.16,426.97L227.27,427.58L229.37,427.58L231.48,426.97L233.59,427.58L235.70,427.58L237.80,427.58L239.91,426.97L242.02,427.58L244.12,427.58L246.23,427.58" fill="none" stroke="#0b4a82" stroke-width="1.1" stroke-linejoin="round"/>
<rect x="53.90" y="425.50" width="5.4" height="5.4" fill="#0b4a82"/>
<rect x="56.01" y="425.50" width="5.4" height="5.4" fill="#0b4a82"/>
<rect x="58.11" y="425.50" width="5.4" height="5.4" fill="#0b4a82"/>
<rect x="60.22" y="425.50" width="5.4" height="5.4" fill="#0b4a82"/>
<rect x="62.33" y="425.50" width="5.4" height="5.4" fill="#0b4a82"/>
<rect x="64.44" y="425.50" width="5.4" height="5.4" fill="#0b4a82"/>
<rect x="66.54" y="425.50" width="5.4" height="5.4" fill="#0b4a82"/>
<rect x="68.65" y="425.50" width="5.4" height="5.4" fill="#0b4a82"/>
<rect x="70.76" y="425.50" width="5.4" height="5.4" fill="#0b4a82"/>
<rect x="72.86" y="425.50" width="5.4" height="5.4" fill="#0b4a82"/>
<rect x="74.97" y="422.42" width="5.4" height="5.4" fill="#0b4a82"/>
<rect x="77.08" y="407.04" width="5.4" height="5.4" fill="#0b4a82"/>
<rect x="79.18" y="378.11" width="5.4" height="5.4" fill="#0b4a82"/>
<rect x="81.29" y="347.95" width="5.4" height="5.4" fill="#0b4a82"/>
<rect x="83.40" y="326.40" width="5.4" height="5.4" fill="#0b4a82"/>
<rect x="85.51" y="312.86" width="5.4" height="5.4" fill="#0b4a82"/>
<rect x="87.61" y="311.63" width="5.4" height="5.4" fill="#0b4a82"/>
<rect x="89.72" y="317.79" width="5.4" height="5.4" fill="#0b4a82"/>
<rect x="91.83" y="327.02" width="5.4" height="5.4" fill="#0b4a82"/>
<rect x="93.93" y="335.64" width="5.4" height="5.4" fill="#0b4a82"/>
<rect x="96.04" y="343.02" width="5.4" height="5.4" fill="#0b4a82"/>
<rect x="98.15" y="355.33" width="5.4" height="5.4" fill="#0b4a82"/>
<rect x="100.25" y="363.33" width="5.4" height="5.4" fill="#0b4a82"/>
<rect x="102.36" y="365.18" width="5.4" height="5.4" fill="#0b4a82"/>
<rect x="104.47" y="376.88" width="5.4" height="5.4" fill="#0b4a82"/>
<rect x="106.58" y="379.34" width="5.4" height="5.4" fill="#0b4a82"/>
<rect x="108.68" y="383.95" width="5.4" height="5.4" fill="#0b4a82"/>
<rect x="110.79" y="379.95" width="5.4" height="5.4" fill="#0b4a82"/>
<rect x="112.90" y="386.42" width="5.4" height="5.4" fill="#0b4a82"/>
<rect x="115.00" y="387.65" width="5.4" height="5.4" fill="#0b4a82"/>
<rect x="117.11" y="392.26" width="5.4" height="5.4" fill="#0b4a82"/>
<rect x="119.22" y="391.96" width="5.4" height="5.4" fill="#0b4a82"/>
<rect x="121.32" y="391.96" width="5.4" height="5.4" fill="#0b4a82"/>
<rect x="123.43" y="398.73" width="5.4" height="5.4" fill="#0b4a82"/>
<rect x="125.54" y="397.49" width="5.4" height="5.4" fill="#0b4a82"/>
<rect x="127.64" y="402.11" width="5.4" height="5.4" fill="#0b4a82"/>
<rect x="129.75" y="399.03" width="5.4" height="5.4" fill="#0b4a82"/>
<rect x="131.86" y="399.34" width="5.4" height="5.4" fill="#0b4a82"/>
<rect x="133.97" y="405.19" width="5.4" height="5.4" fill="#0b4a82"/>
<rect x="136.07" y="402.73" width="5.4" height="5.4" fill="#0b4a82"/>
<rect x="138.18" y="408.27" width="5.4" height="5.4" fill="#0b4a82"/>
<rect x="140.29" y="407.04" width="5.4" height="5.4" fill="#0b4a82"/>
<rect x="142.39" y="403.34" width="5.4" height="5.4" fill="#0b4a82"/>
<rect x="144.50" y="401.50" width="5.4" height="5.4" fill="#0b4a82"/>
<rect x="146.61" y="407.04" width="5.4" height="5.4" fill="#0b4a82"/>
<rect x="148.72" y="408.88" width="5.4" height="5.4" fill="#0b4a82"/>
<rect x="150.82" y="404.57" width="5.4" height="5.4" fill="#0b4a82"/>
<rect x="152.93" y="409.50" width="5.4" height="5.4" fill="#0b4a82"/>
<rect x="155.04" y="410.73" width="5.4" height="5.4" fill="#0b4a82"/>
<rect x="157.14" y="411.96" width="5.4" height="5.4" fill="#0b4a82"/>
<rect x="159.25" y="413.19" width="5.4" height="5.4" fill="#0b4a82"/>
<rect x="161.36" y="415.65" width="5.4" height="5.4" fill="#0b4a82"/>
<rect x="163.46" y="414.42" width="5.4" height="5.4" fill="#0b4a82"/>
<rect x="165.57" y="413.19" width="5.4" height="5.4" fill="#0b4a82"/>
<rect x="167.68" y="411.34" width="5.4" height="5.4" fill="#0b4a82"/>
<rect x="169.79" y="415.04" width="5.4" height="5.4" fill="#0b4a82"/>
<rect x="171.89" y="418.11" width="5.4" height="5.4" fill="#0b4a82"/>
<rect x="174.00" y="419.35" width="5.4" height="5.4" fill="#0b4a82"/>
<rect x="176.11" y="420.58" width="5.4" height="5.4" fill="#0b4a82"/>
<rect x="178.21" y="419.96" width="5.4" height="5.4" fill="#0b4a82"/>
<rect x="180.32" y="419.96" width="5.4" height="5.4" fill="#0b4a82"/>
<rect x="182.43" y="421.81" width="5.4" height="5.4" fill="#0b4a82"/>
<rect x="184.53" y="422.42" width="5.4" height="5.4" fill="#0b4a82"/>
<rect x="186.64" y="418.73" width="5.4" height="5.4" fill="#0b4a82"/>
<rect x="188.75" y="421.81" width="5.4" height="5.4" fill="#0b4a82"/>
<rect x="190.86" y="422.42" width="5.4" height="5.4" fill="#0b4a82"/>
<rect x="192.96" y="423.65" width="5.4" height="5.4" fill="#0b4a82"/>
<rect x="195.07" y="421.81" width="5.4" height="5.4" fill="#0b4a82"/>
<rect x="197.18" y="413.81" width="5.4" height="5.4" fill="#0b4a82"/>
<rect x="199.28" y="423.04" width="5.4" height="5.4" fill="#0b4a82"/>
<rect x="201.39" y="423.65" width="5.4" height="5.4" fill="#0b4a82"/>
<rect x="203.50" y="424.27" width="5.4" height="5.4" fill="#0b4a82"/>
<rect x="205.60" y="423.65" width="5.4" height="5.4" fill="#0b4a82"/>
<rect x="207.71" y="424.27" width="5.4" height="5.4" fill="#0b4a82"/>
<rect x="209.82" y="424.88" width="5.4" height="5.4" fill="#0b4a82"/>
<rect x="211.93" y="424.27" width="5.4" height="5.4" fill="#0b4a82"/>
<rect x="214.03" y="424.88" width="5.4" height="5.4" fill="#0b4a82"/>
<rect x="216.14" y="424.88" width="5.4" height="5.4" fill="#0b4a82"/>
<rect x="218.25" y="424.27" width="5.4" height="5.4" fill="#0b4a82"/>
<rect x="220.35" y="424.88" width="5.4" height="5.4" fill="#0b4a82"/>
<rect x="222.46" y="424.27" width="5.4" height="5.4" fill="#0b4a82"/>
<rect x="224.57" y="424.88" width="5.4" height="5.4" fill="#0b4a82"/>
<rect x="226.67" y="424.88" width="5.4" height="5.4" fill="#0b4a82"/>
<rect x="228.78" y="424.27" width="5.4" height="5.4" fill="#0b4a82"/>
<rect x="230.89" y="424.88" width="5.4" height="5.4" fill="#0b4a82"/>
<rect x="233.00" y="424.88" width="5.4" height="5.4" fill="#0b4a82"/>
<rect x="235.10" y="424.88" width="5.4" height="5.4" fill="#0b4a82"/>
<rect x="237.21" y="424.27" width="5.4" height="5.4" fill="#0b4a82"/>
<rect x="239.32" y="424.88" width="5.4" height="5.4" fill="#0b4a82"/>
<rect x="241.42" y="424.88" width="5.4" height="5.4" fill="#0b4a82"/>
<rect x="243.53" y="424.88" width="5.4" height="5.4" fill="#0b4a82"/>
<path d="M56.60,428.20L58.71,428.20L60.81,428.20L62.92,428.20L65.03,428.20L67.14,428.20L69.24,428.20L71.35,428.20L73.46,428.20L75.56,428.20L77.67,428.20L79.78,428.20L81.88,428.20L83.99,427.58L86.10,425.74L88.21,415.27L90.31,404.20L92.42,394.35L94.53,386.35L96.63,380.81L98.74,378.34L100.85,378.34L102.95,379.58L105.06,381.42L107.17,385.12L109.28,388.81L111.38,391.27L113.49,394.35L115.60,397.43L117.70,399.27L119.81,400.50L121.92,401.73L124.02,403.58L126.13,406.04L128.24,408.50L130.34,411.58L132.45,414.04L134.56,412.20L136.67,412.81L138.77,414.66L140.88,415.89L142.99,415.27L145.09,413.43L147.20,410.97L149.31,414.23L151.42,419.64L153.52,420.63L155.63,423.52L157.74,418.48L159.84,414.84L161.95,418.60L164.06,418.23L166.16,421.43L168.27,417.67L170.38,418.91L172.49,418.35L174.59,423.77L176.70,424.14L178.81,426.78L180.91,423.65L183.02,426.66L185.13,425.43L187.23,428.20L189.34,425.74L191.45,426.35L193.56,426.35L195.66,426.35L197.77,425.12L199.88,420.81L201.98,426.35L204.09,426.35L206.20,425.74L208.30,422.66L210.41,426.97L212.52,426.97L214.62,427.58L216.73,426.97L218.84,427.58L220.95,427.58L223.05,427.58L225.16,427.58L227.27,427.58L229.37,427.58L231.48,427.58L233.59,427.58L235.70,427.58L237.80,427.58L239.91,427.58L242.02,427.58L244.12,427.58L246.23,427.58" fill="none" stroke="#c4002a" stroke-width="1.1" stroke-linejoin="round"/>
<circle cx="56.60" cy="428.20" r="2.85" fill="#c4002a"/>
<circle cx="58.71" cy="428.20" r="2.85" fill="#c4002a"/>
<circle cx="60.81" cy="428.20" r="2.85" fill="#c4002a"/>
<circle cx="62.92" cy="428.20" r="2.85" fill="#c4002a"/>
<circle cx="65.03" cy="428.20" r="2.85" fill="#c4002a"/>
<circle cx="67.14" cy="428.20" r="2.85" fill="#c4002a"/>
<circle cx="69.24" cy="428.20" r="2.85" fill="#c4002a"/>
<circle cx="71.35" cy="428.20" r="2.85" fill="#c4002a"/>
<circle cx="73.46" cy="428.20" r="2.85" fill="#c4002a"/>
<circle cx="75.56" cy="428.20" r="2.85" fill="#c4002a"/>
<circle cx="77.67" cy="428.20" r="2.85" fill="#c4002a"/>
<circle cx="79.78" cy="428.20" r="2.85" fill="#c4002a"/>
<circle cx="81.88" cy="428.20" r="2.85" fill="#c4002a"/>
<circle cx="83.99" cy="427.58" r="2.85" fill="#c4002a"/>
<circle cx="86.10" cy="425.74" r="2.85" fill="#c4002a"/>
<circle cx="88.21" cy="415.27" r="2.85" fill="#c4002a"/>
<circle cx="90.31" cy="404.20" r="2.85" fill="#c4002a"/>
<circle cx="92.42" cy="394.35" r="2.85" fill="#c4002a"/>
<circle cx="94.53" cy="386.35" r="2.85" fill="#c4002a"/>
<circle cx="96.63" cy="380.81" r="2.85" fill="#c4002a"/>
<circle cx="98.74" cy="378.34" r="2.85" fill="#c4002a"/>
<circle cx="100.85" cy="378.34" r="2.85" fill="#c4002a"/>
<circle cx="102.95" cy="379.58" r="2.85" fill="#c4002a"/>
<circle cx="105.06" cy="381.42" r="2.85" fill="#c4002a"/>
<circle cx="107.17" cy="385.12" r="2.85" fill="#c4002a"/>
<circle cx="109.28" cy="388.81" r="2.85" fill="#c4002a"/>
<circle cx="111.38" cy="391.27" r="2.85" fill="#c4002a"/>
<circle cx="113.49" cy="394.35" r="2.85" fill="#c4002a"/>
<circle cx="115.60" cy="397.43" r="2.85" fill="#c4002a"/>
<circle cx="117.70" cy="399.27" r="2.85" fill="#c4002a"/>
<circle cx="119.81" cy="400.50" r="2.85" fill="#c4002a"/>
<circle cx="121.92" cy="401.73" r="2.85" fill="#c4002a"/>
<circle cx="124.02" cy="403.58" r="2.85" fill="#c4002a"/>
<circle cx="126.13" cy="406.04" r="2.85" fill="#c4002a"/>
<circle cx="128.24" cy="408.50" r="2.85" fill="#c4002a"/>
<circle cx="130.34" cy="411.58" r="2.85" fill="#c4002a"/>
<circle cx="132.45" cy="414.04" r="2.85" fill="#c4002a"/>
<circle cx="134.56" cy="412.20" r="2.85" fill="#c4002a"/>
<circle cx="136.67" cy="412.81" r="2.85" fill="#c4002a"/>
<circle cx="138.77" cy="414.66" r="2.85" fill="#c4002a"/>
<circle cx="140.88" cy="415.89" r="2.85" fill="#c4002a"/>
<circle cx="142.99" cy="415.27" r="2.85" fill="#c4002a"/>
<circle cx="145.09" cy="413.43" r="2.85" fill="#c4002a"/>
<circle cx="147.20" cy="410.97" r="2.85" fill="#c4002a"/>
<circle cx="149.31" cy="414.23" r="2.85" fill="#c4002a"/>
<circle cx="151.42" cy="419.64" r="2.85" fill="#c4002a"/>
<circle cx="153.52" cy="420.63" r="2.85" fill="#c4002a"/>
<circle cx="155.63" cy="423.52" r="2.85" fill="#c4002a"/>
<circle cx="157.74" cy="418.48" r="2.85" fill="#c4002a"/>
<circle cx="159.84" cy="414.84" r="2.85" fill="#c4002a"/>
<circle cx="161.95" cy="418.60" r="2.85" fill="#c4002a"/>
<circle cx="164.06" cy="418.23" r="2.85" fill="#c4002a"/>
<circle cx="166.16" cy="421.43" r="2.85" fill="#c4002a"/>
<circle cx="168.27" cy="417.67" r="2.85" fill="#c4002a"/>
<circle cx="170.38" cy="418.91" r="2.85" fill="#c4002a"/>
<circle cx="172.49" cy="418.35" r="2.85" fill="#c4002a"/>
<circle cx="174.59" cy="423.77" r="2.85" fill="#c4002a"/>
<circle cx="176.70" cy="424.14" r="2.85" fill="#c4002a"/>
<circle cx="178.81" cy="426.78" r="2.85" fill="#c4002a"/>
<circle cx="180.91" cy="423.65" r="2.85" fill="#c4002a"/>
<circle cx="183.02" cy="426.66" r="2.85" fill="#c4002a"/>
<circle cx="185.13" cy="425.43" r="2.85" fill="#c4002a"/>
<circle cx="187.23" cy="428.20" r="2.85" fill="#c4002a"/>
<circle cx="189.34" cy="425.74" r="2.85" fill="#c4002a"/>
<circle cx="191.45" cy="426.35" r="2.85" fill="#c4002a"/>
<circle cx="193.56" cy="426.35" r="2.85" fill="#c4002a"/>
<circle cx="195.66" cy="426.35" r="2.85" fill="#c4002a"/>
<circle cx="197.77" cy="425.12" r="2.85" fill="#c4002a"/>
<circle cx="199.88" cy="420.81" r="2.85" fill="#c4002a"/>
<circle cx="201.98" cy="426.35" r="2.85" fill="#c4002a"/>
<circle cx="204.09" cy="426.35" r="2.85" fill="#c4002a"/>
<circle cx="206.20" cy="425.74" r="2.85" fill="#c4002a"/>
<circle cx="208.30" cy="422.66" r="2.85" fill="#c4002a"/>
<circle cx="210.41" cy="426.97" r="2.85" fill="#c4002a"/>
<circle cx="212.52" cy="426.97" r="2.85" fill="#c4002a"/>
<circle cx="214.62" cy="427.58" r="2.85" fill="#c4002a"/>
<circle cx="216.73" cy="426.97" r="2.85" fill="#c4002a"/>
<circle cx="218.84" cy="427.58" r="2.85" fill="#c4002a"/>
<circle cx="220.95" cy="427.58" r="2.85" fill="#c4002a"/>
<circle cx="223.05" cy="427.58" r="2.85" fill="#c4002a"/>
<circle cx="225.16" cy="427.58" r="2.85" fill="#c4002a"/>
<circle cx="227.27" cy="427.58" r="2.85" fill="#c4002a"/>
<circle cx="229.37" cy="427.58" r="2.85" fill="#c4002a"/>
<circle cx="231.48" cy="427.58" r="2.85" fill="#c4002a"/>
<circle cx="233.59" cy="427.58" r="2.85" fill="#c4002a"/>
<circle cx="235.70" cy="427.58" r="2.85" fill="#c4002a"/>
<circle cx="237.80" cy="427.58" r="2.85" fill="#c4002a"/>
<circle cx="239.91" cy="427.58" r="2.85" fill="#c4002a"/>
<circle cx="242.02" cy="427.58" r="2.85" fill="#c4002a"/>
<circle cx="244.12" cy="427.58" r="2.85" fill="#c4002a"/>
<circle cx="246.23" cy="427.58" r="2.85" fill="#c4002a"/>
<path d="M56.60,428.20L58.71,428.20L60.81,428.20L62.92,428.20L65.03,428.20L67.14,428.20L69.24,428.20L71.35,428.20L73.46,428.20L75.56,428.20L77.67,428.20L79.78,425.12L81.88,418.97L83.99,412.81L86.10,408.50L88.21,407.27L90.31,408.50L92.42,409.74L94.53,412.20L96.63,414.66L98.74,417.12L100.85,418.97L102.95,420.81L105.06,418.35L107.17,423.28L109.28,424.51L111.38,425.74L113.49,426.35L115.60,425.74L117.70,426.97L119.81,426.35L121.92,426.97L124.02,426.35L126.13,427.58L128.24,426.97L130.34,427.58L132.45,426.97L134.56,427.58L136.67,427.58L138.77,427.58L140.88,427.58L142.99,427.60L145.09,427.61L147.20,427.62L149.31,427.63L151.42,427.65L153.52,427.66L155.63,427.67L157.74,427.68L159.84,427.70L161.95,427.71L164.06,427.72L166.16,427.73L168.27,427.74L170.38,427.76L172.49,427.77L174.59,427.78L176.70,427.79L178.81,427.81L180.91,427.82L183.02,427.83L185.13,427.84L187.23,427.86L189.34,427.87L191.45,427.88L193.56,427.89L195.66,427.90L197.77,427.92L199.88,427.93L201.98,427.94L204.09,427.95L206.20,427.97L208.30,427.98L210.41,427.99L212.52,428.00L214.62,428.02L216.73,428.03L218.84,428.04L220.95,428.05L223.05,428.06L225.16,428.08L227.27,428.09L229.37,428.10L231.48,428.11L233.59,428.13L235.70,428.14L237.80,428.15L239.91,428.16L242.02,428.18L244.12,428.19L246.23,428.20" fill="none" stroke="#62206f" stroke-width="1.1" stroke-linejoin="round"/>
<path d="M53.45,431.05L59.75,431.05L56.60,425.35Z" fill="#62206f"/>
<path d="M55.56,431.05L61.86,431.05L58.71,425.35Z" fill="#62206f"/>
<path d="M57.66,431.05L63.96,431.05L60.81,425.35Z" fill="#62206f"/>
<path d="M59.77,431.05L66.07,431.05L62.92,425.35Z" fill="#62206f"/>
<path d="M61.88,431.05L68.18,431.05L65.03,425.35Z" fill="#62206f"/>
<path d="M63.99,431.05L70.29,431.05L67.14,425.35Z" fill="#62206f"/>
<path d="M66.09,431.05L72.39,431.05L69.24,425.35Z" fill="#62206f"/>
<path d="M68.20,431.05L74.50,431.05L71.35,425.35Z" fill="#62206f"/>
<path d="M70.31,431.05L76.61,431.05L73.46,425.35Z" fill="#62206f"/>
<path d="M72.41,431.05L78.71,431.05L75.56,425.35Z" fill="#62206f"/>
<path d="M74.52,431.05L80.82,431.05L77.67,425.35Z" fill="#62206f"/>
<path d="M76.63,427.97L82.93,427.97L79.78,422.27Z" fill="#62206f"/>
<path d="M78.73,421.82L85.03,421.82L81.88,416.12Z" fill="#62206f"/>
<path d="M80.84,415.66L87.14,415.66L83.99,409.96Z" fill="#62206f"/>
<path d="M82.95,411.35L89.25,411.35L86.10,405.65Z" fill="#62206f"/>
<path d="M85.06,410.12L91.36,410.12L88.21,404.42Z" fill="#62206f"/>
<path d="M87.16,411.35L93.46,411.35L90.31,405.65Z" fill="#62206f"/>
<path d="M89.27,412.59L95.57,412.59L92.42,406.88Z" fill="#62206f"/>
<path d="M91.38,415.05L97.68,415.05L94.53,409.35Z" fill="#62206f"/>
<path d="M93.48,417.51L99.78,417.51L96.63,411.81Z" fill="#62206f"/>
<path d="M95.59,419.97L101.89,419.97L98.74,414.27Z" fill="#62206f"/>
<path d="M97.70,421.82L104.00,421.82L100.85,416.12Z" fill="#62206f"/>
<path d="M99.80,423.66L106.10,423.66L102.95,417.96Z" fill="#62206f"/>
<path d="M101.91,421.20L108.21,421.20L105.06,415.50Z" fill="#62206f"/>
<path d="M104.02,426.13L110.32,426.13L107.17,420.43Z" fill="#62206f"/>
<path d="M106.12,427.36L112.43,427.36L109.28,421.66Z" fill="#62206f"/>
<path d="M108.23,428.59L114.53,428.59L111.38,422.89Z" fill="#62206f"/>
<path d="M110.34,429.20L116.64,429.20L113.49,423.50Z" fill="#62206f"/>
<path d="M112.45,428.59L118.75,428.59L115.60,422.89Z" fill="#62206f"/>
<path d="M114.55,429.82L120.85,429.82L117.70,424.12Z" fill="#62206f"/>
<path d="M116.66,429.20L122.96,429.20L119.81,423.50Z" fill="#62206f"/>
<path d="M118.77,429.82L125.07,429.82L121.92,424.12Z" fill="#62206f"/>
<path d="M120.87,429.20L127.17,429.20L124.02,423.50Z" fill="#62206f"/>
<path d="M122.98,430.43L129.28,430.43L126.13,424.73Z" fill="#62206f"/>
<path d="M125.09,429.82L131.39,429.82L128.24,424.12Z" fill="#62206f"/>
<path d="M127.19,430.43L133.50,430.43L130.34,424.73Z" fill="#62206f"/>
<path d="M129.30,429.82L135.60,429.82L132.45,424.12Z" fill="#62206f"/>
<path d="M131.41,430.43L137.71,430.43L134.56,424.73Z" fill="#62206f"/>
<path d="M133.52,430.43L139.82,430.43L136.67,424.73Z" fill="#62206f"/>
<path d="M135.62,430.43L141.92,430.43L138.77,424.73Z" fill="#62206f"/>
<path d="M137.73,430.43L144.03,430.43L140.88,424.73Z" fill="#62206f"/>
<path d="M139.84,430.45L146.14,430.45L142.99,424.75Z" fill="#62206f"/>
<path d="M141.94,430.46L148.24,430.46L145.09,424.76Z" fill="#62206f"/>
<path d="M144.05,430.47L150.35,430.47L147.20,424.77Z" fill="#62206f"/>
<path d="M146.16,430.48L152.46,430.48L149.31,424.78Z" fill="#62206f"/>
<path d="M148.27,430.50L154.57,430.50L151.42,424.80Z" fill="#62206f"/>
<path d="M150.37,430.51L156.67,430.51L153.52,424.81Z" fill="#62206f"/>
<path d="M152.48,430.52L158.78,430.52L155.63,424.82Z" fill="#62206f"/>
<path d="M154.59,430.53L160.89,430.53L157.74,424.83Z" fill="#62206f"/>
<path d="M156.69,430.55L162.99,430.55L159.84,424.85Z" fill="#62206f"/>
<path d="M158.80,430.56L165.10,430.56L161.95,424.86Z" fill="#62206f"/>
<path d="M160.91,430.57L167.21,430.57L164.06,424.87Z" fill="#62206f"/>
<path d="M163.01,430.58L169.31,430.58L166.16,424.88Z" fill="#62206f"/>
<path d="M165.12,430.59L171.42,430.59L168.27,424.89Z" fill="#62206f"/>
<path d="M167.23,430.61L173.53,430.61L170.38,424.91Z" fill="#62206f"/>
<path d="M169.34,430.62L175.64,430.62L172.49,424.92Z" fill="#62206f"/>
<path d="M171.44,430.63L177.74,430.63L174.59,424.93Z" fill="#62206f"/>
<path d="M173.55,430.64L179.85,430.64L176.70,424.94Z" fill="#62206f"/>
<path d="M175.66,430.66L181.96,430.66L178.81,424.96Z" fill="#62206f"/>
<path d="M177.76,430.67L184.06,430.67L180.91,424.97Z" fill="#62206f"/>
<path d="M179.87,430.68L186.17,430.68L183.02,424.98Z" fill="#62206f"/>
<path d="M181.98,430.69L188.28,430.69L185.13,424.99Z" fill="#62206f"/>
<path d="M184.08,430.71L190.38,430.71L187.23,425.01Z" fill="#62206f"/>
<path d="M186.19,430.72L192.49,430.72L189.34,425.02Z" fill="#62206f"/>
<path d="M188.30,430.73L194.60,430.73L191.45,425.03Z" fill="#62206f"/>
<path d="M190.41,430.74L196.71,430.74L193.56,425.04Z" fill="#62206f"/>
<path d="M192.51,430.75L198.81,430.75L195.66,425.05Z" fill="#62206f"/>
<path d="M194.62,430.77L200.92,430.77L197.77,425.07Z" fill="#62206f"/>
<path d="M196.73,430.78L203.03,430.78L199.88,425.08Z" fill="#62206f"/>
<path d="M198.83,430.79L205.13,430.79L201.98,425.09Z" fill="#62206f"/>
<path d="M200.94,430.80L207.24,430.80L204.09,425.10Z" fill="#62206f"/>
<path d="M203.05,430.82L209.35,430.82L206.20,425.12Z" fill="#62206f"/>
<path d="M205.15,430.83L211.45,430.83L208.30,425.13Z" fill="#62206f"/>
<path d="M207.26,430.84L213.56,430.84L210.41,425.14Z" fill="#62206f"/>
<path d="M209.37,430.85L215.67,430.85L212.52,425.15Z" fill="#62206f"/>
<path d="M211.47,430.87L217.78,430.87L214.62,425.17Z" fill="#62206f"/>
<path d="M213.58,430.88L219.88,430.88L216.73,425.18Z" fill="#62206f"/>
<path d="M215.69,430.89L221.99,430.89L218.84,425.19Z" fill="#62206f"/>
<path d="M217.80,430.90L224.10,430.90L220.95,425.20Z" fill="#62206f"/>
<path d="M219.90,430.91L226.20,430.91L223.05,425.21Z" fill="#62206f"/>
<path d="M222.01,430.93L228.31,430.93L225.16,425.23Z" fill="#62206f"/>
<path d="M224.12,430.94L230.42,430.94L227.27,425.24Z" fill="#62206f"/>
<path d="M226.22,430.95L232.52,430.95L229.37,425.25Z" fill="#62206f"/>
<path d="M228.33,430.96L234.63,430.96L231.48,425.26Z" fill="#62206f"/>
<path d="M230.44,430.98L236.74,430.98L233.59,425.28Z" fill="#62206f"/>
<path d="M232.55,430.99L238.85,430.99L235.70,425.29Z" fill="#62206f"/>
<path d="M234.65,431.00L240.95,431.00L237.80,425.30Z" fill="#62206f"/>
<path d="M236.76,431.01L243.06,431.01L239.91,425.31Z" fill="#62206f"/>
<path d="M238.87,431.03L245.17,431.03L242.02,425.33Z" fill="#62206f"/>
<path d="M240.97,431.04L247.27,431.04L244.12,425.34Z" fill="#62206f"/>
<path d="M243.08,431.05L249.38,431.05L246.23,425.35Z" fill="#62206f"/>
<text transform="translate(23.60,364.60) rotate(-90)" x="0" y="0" font-size="11.5" font-weight="normal" stroke="#222222" stroke-width="0.4" text-anchor="middle" fill="#2a2a2a" textLength="36" lengthAdjust="spacingAndGlyphs">ETP (nM)</text>
<text x="133.10" y="462.60" font-size="11.8" font-weight="normal" stroke="#222222" stroke-width="0.4" fill="#2a2a2a" textLength="41.5" lengthAdjust="spacingAndGlyphs">Time (min)</text>
<line x1="132" y1="313.50" x2="150" y2="313.50" stroke="#0b4a82" stroke-width="1.5"/>
<rect x="138.00" y="310.50" width="6.0" height="6.0" fill="#0b4a82"/>
<text x="154.70" y="316.60" fill="#2a2a2a" stroke="#2a2a2a" stroke-width="0.12" text-anchor="start" ><tspan font-style="italic" font-size="8.90">Pitpβ</tspan><tspan font-style="italic" font-size="4.45" dy="-4.45" fill="#555" stroke="none">fl/fl</tspan><tspan font-style="italic" font-size="8.90" dy="4.45">Pf4Cre</tspan><tspan font-style="normal" font-size="5.34" dy="-4.45" stroke="none">−</tspan><tspan font-style="normal" font-size="8.90" dy="4.45"> PRP</tspan></text>
<line x1="132" y1="331.10" x2="150" y2="331.10" stroke="#c4002a" stroke-width="1.5"/>
<circle cx="141.00" cy="331.10" r="3.15" fill="#c4002a"/>
<text x="154.70" y="334.20" fill="#2a2a2a" stroke="#2a2a2a" stroke-width="0.12" text-anchor="start" ><tspan font-style="italic" font-size="8.90">Pitpβ</tspan><tspan font-style="italic" font-size="4.45" dy="-4.45" fill="#555" stroke="none">fl/fl</tspan><tspan font-style="italic" font-size="8.90" dy="4.45">Pf4Cre</tspan><tspan font-style="normal" font-size="5.34" dy="-4.45" stroke="none">+</tspan><tspan font-style="normal" font-size="8.90" dy="4.45"> PRP</tspan></text>
<line x1="132" y1="348.70" x2="150" y2="348.70" stroke="#62206f" stroke-width="1.5"/>
<path d="M137.55,351.85L144.45,351.85L141.00,345.55Z" fill="#62206f"/>
<text x="154.70" y="351.80" fill="#2a2a2a" stroke="#2a2a2a" stroke-width="0.12" text-anchor="start" ><tspan font-style="italic" font-size="8.90">Pitpα</tspan><tspan font-style="italic" font-size="4.45" dy="-4.45" fill="#555" stroke="none">fl/fl</tspan><tspan font-style="italic" font-size="8.90" dy="4.45">/β</tspan><tspan font-style="italic" font-size="4.45" dy="-4.45" fill="#555" stroke="none">fl/fl</tspan><tspan font-style="italic" font-size="8.90" dy="4.45">Pf4Cre</tspan><tspan font-style="normal" font-size="5.34" dy="-4.45" stroke="none">+</tspan><tspan font-style="normal" font-size="8.90" dy="4.45"> PRP</tspan></text>
<text x="9.90" y="532.50" font-size="17.2" text-anchor="start" fill="#111" font-weight="bold" font-style="normal" stroke="#111" stroke-width="0.4">E</text>
<line x1="56.9" y1="538.0" x2="56.9" y2="658.5" stroke="#111111" stroke-width="1.5"/>
<line x1="56.3" y1="658.0" x2="239.2" y2="658.0" stroke="#111111" stroke-width="1.5"/>
<line x1="52.4" y1="658.00" x2="56.9" y2="658.00" stroke="#111111" stroke-width="1.3"/>
<text transform="translate(49.10,661.90) scale(0.9,1)" x="0" y="0" font-size="10.3" text-anchor="end" fill="#2a2a2a" font-weight="normal" font-style="normal" letter-spacing="0.7" stroke="#2a2a2a" stroke-width="0.12">0</text>
<line x1="52.4" y1="638.66" x2="56.9" y2="638.66" stroke="#111111" stroke-width="1.3"/>
<text transform="translate(49.10,642.56) scale(0.9,1)" x="0" y="0" font-size="10.3" text-anchor="end" fill="#2a2a2a" font-weight="normal" font-style="normal" letter-spacing="0.7" stroke="#2a2a2a" stroke-width="0.12">50</text>
<line x1="52.4" y1="619.33" x2="56.9" y2="619.33" stroke="#111111" stroke-width="1.3"/>
<text transform="translate(49.10,623.23) scale(0.9,1)" x="0" y="0" font-size="10.3" text-anchor="end" fill="#2a2a2a" font-weight="normal" font-style="normal" letter-spacing="0.7" stroke="#2a2a2a" stroke-width="0.12">100</text>
<line x1="52.4" y1="600.00" x2="56.9" y2="600.00" stroke="#111111" stroke-width="1.3"/>
<text transform="translate(49.10,603.89) scale(0.9,1)" x="0" y="0" font-size="10.3" text-anchor="end" fill="#2a2a2a" font-weight="normal" font-style="normal" letter-spacing="0.7" stroke="#2a2a2a" stroke-width="0.12">150</text>
<line x1="52.4" y1="580.66" x2="56.9" y2="580.66" stroke="#111111" stroke-width="1.3"/>
<text transform="translate(49.10,584.56) scale(0.9,1)" x="0" y="0" font-size="10.3" text-anchor="end" fill="#2a2a2a" font-weight="normal" font-style="normal" letter-spacing="0.7" stroke="#2a2a2a" stroke-width="0.12">200</text>
<line x1="52.4" y1="561.33" x2="56.9" y2="561.33" stroke="#111111" stroke-width="1.3"/>
<text transform="translate(49.10,565.23) scale(0.9,1)" x="0" y="0" font-size="10.3" text-anchor="end" fill="#2a2a2a" font-weight="normal" font-style="normal" letter-spacing="0.7" stroke="#2a2a2a" stroke-width="0.12">250</text>
<line x1="52.4" y1="541.99" x2="56.9" y2="541.99" stroke="#111111" stroke-width="1.3"/>
<text transform="translate(49.10,545.89) scale(0.9,1)" x="0" y="0" font-size="10.3" text-anchor="end" fill="#2a2a2a" font-weight="normal" font-style="normal" letter-spacing="0.7" stroke="#2a2a2a" stroke-width="0.12">300</text>
<line x1="56.50" y1="658.0" x2="56.50" y2="662.3" stroke="#111111" stroke-width="1.3"/>
<text transform="translate(57.00,676.10) scale(0.9,1)" x="0" y="0" font-size="10.3" text-anchor="middle" fill="#2a2a2a" font-weight="normal" font-style="normal" letter-spacing="0.7" stroke="#2a2a2a" stroke-width="0.12">0</text>
<line x1="76.41" y1="658.0" x2="76.41" y2="662.3" stroke="#111111" stroke-width="1.3"/>
<text transform="translate(76.91,676.10) scale(0.9,1)" x="0" y="0" font-size="10.3" text-anchor="middle" fill="#2a2a2a" font-weight="normal" font-style="normal" letter-spacing="0.7" stroke="#2a2a2a" stroke-width="0.12">10</text>
<line x1="96.32" y1="658.0" x2="96.32" y2="662.3" stroke="#111111" stroke-width="1.3"/>
<text transform="translate(96.82,676.10) scale(0.9,1)" x="0" y="0" font-size="10.3" text-anchor="middle" fill="#2a2a2a" font-weight="normal" font-style="normal" letter-spacing="0.7" stroke="#2a2a2a" stroke-width="0.12">20</text>
<line x1="116.23" y1="658.0" x2="116.23" y2="662.3" stroke="#111111" stroke-width="1.3"/>
<text transform="translate(116.73,676.10) scale(0.9,1)" x="0" y="0" font-size="10.3" text-anchor="middle" fill="#2a2a2a" font-weight="normal" font-style="normal" letter-spacing="0.7" stroke="#2a2a2a" stroke-width="0.12">30</text>
<line x1="136.14" y1="658.0" x2="136.14" y2="662.3" stroke="#111111" stroke-width="1.3"/>
<text transform="translate(136.64,676.10) scale(0.9,1)" x="0" y="0" font-size="10.3" text-anchor="middle" fill="#2a2a2a" font-weight="normal" font-style="normal" letter-spacing="0.7" stroke="#2a2a2a" stroke-width="0.12">40</text>
<line x1="156.05" y1="658.0" x2="156.05" y2="662.3" stroke="#111111" stroke-width="1.3"/>
<text transform="translate(156.55,676.10) scale(0.9,1)" x="0" y="0" font-size="10.3" text-anchor="middle" fill="#2a2a2a" font-weight="normal" font-style="normal" letter-spacing="0.7" stroke="#2a2a2a" stroke-width="0.12">50</text>
<line x1="175.96" y1="658.0" x2="175.96" y2="662.3" stroke="#111111" stroke-width="1.3"/>
<text transform="translate(176.46,676.10) scale(0.9,1)" x="0" y="0" font-size="10.3" text-anchor="middle" fill="#2a2a2a" font-weight="normal" font-style="normal" letter-spacing="0.7" stroke="#2a2a2a" stroke-width="0.12">60</text>
<line x1="195.87" y1="658.0" x2="195.87" y2="662.3" stroke="#111111" stroke-width="1.3"/>
<text transform="translate(196.37,676.10) scale(0.9,1)" x="0" y="0" font-size="10.3" text-anchor="middle" fill="#2a2a2a" font-weight="normal" font-style="normal" letter-spacing="0.7" stroke="#2a2a2a" stroke-width="0.12">70</text>
<line x1="215.78" y1="658.0" x2="215.78" y2="662.3" stroke="#111111" stroke-width="1.3"/>
<text transform="translate(216.28,676.10) scale(0.9,1)" x="0" y="0" font-size="10.3" text-anchor="middle" fill="#2a2a2a" font-weight="normal" font-style="normal" letter-spacing="0.7" stroke="#2a2a2a" stroke-width="0.12">80</text>
<line x1="235.69" y1="658.0" x2="235.69" y2="662.3" stroke="#111111" stroke-width="1.3"/>
<text transform="translate(236.19,676.10) scale(0.9,1)" x="0" y="0" font-size="10.3" text-anchor="middle" fill="#2a2a2a" font-weight="normal" font-style="normal" letter-spacing="0.7" stroke="#2a2a2a" stroke-width="0.12">90</text>
<path d="M56.50,658.00L58.49,658.00L60.48,658.00L62.47,658.00L64.46,649.49L66.45,637.89L68.45,633.25L70.44,630.54L72.43,629.77L74.42,630.93L76.41,633.25L78.40,635.18L80.39,636.73L82.38,638.28L84.37,639.44L86.37,640.60L88.36,641.76L90.35,642.53L92.34,643.31L94.33,643.69L96.32,644.47L98.31,645.24L100.30,646.40L102.29,647.17L104.28,647.95L106.28,648.33L108.27,648.72L110.26,649.49L112.25,649.88L114.24,650.27L116.23,650.65L118.22,651.04L120.21,651.43L122.20,652.20L124.19,652.59L126.19,652.97L128.18,653.36L130.17,653.75L132.16,654.13L134.15,654.52L136.14,654.91L138.13,655.10L140.12,655.29L142.11,655.49L144.10,655.68L146.09,655.87L148.09,656.07L150.08,656.16L152.07,656.26L154.06,656.36L156.05,656.45L158.04,656.53L160.03,656.61L162.02,656.69L164.01,656.76L166.00,656.84L168.00,656.92L169.99,656.99L171.98,657.07L173.97,657.15L175.96,657.23L177.95,657.27L179.94,657.30L181.93,657.34L183.92,657.38L185.92,657.42L187.91,657.46L189.90,657.50L191.89,657.54L193.88,657.57L195.87,657.61L197.86,657.61L199.85,657.61L201.84,657.61L203.83,657.61L205.83,657.61L207.82,657.61L209.81,657.61L211.80,657.61L213.79,657.61L215.78,657.61L217.77,657.61L219.76,657.61L221.75,657.61L223.74,657.61L225.74,657.61L227.73,657.61L229.72,657.61L231.71,657.61L233.70,657.61L235.69,657.61" fill="none" stroke="#0b4a82" stroke-width="1.1" stroke-linejoin="round"/>
<rect x="53.80" y="655.30" width="5.4" height="5.4" fill="#0b4a82"/>
<rect x="55.79" y="655.30" width="5.4" height="5.4" fill="#0b4a82"/>
<rect x="57.78" y="655.30" width="5.4" height="5.4" fill="#0b4a82"/>
<rect x="59.77" y="655.30" width="5.4" height="5.4" fill="#0b4a82"/>
<rect x="61.76" y="646.79" width="5.4" height="5.4" fill="#0b4a82"/>
<rect x="63.75" y="635.19" width="5.4" height="5.4" fill="#0b4a82"/>
<rect x="65.75" y="630.55" width="5.4" height="5.4" fill="#0b4a82"/>
<rect x="67.74" y="627.84" width="5.4" height="5.4" fill="#0b4a82"/>
<rect x="69.73" y="627.07" width="5.4" height="5.4" fill="#0b4a82"/>
<rect x="71.72" y="628.23" width="5.4" height="5.4" fill="#0b4a82"/>
<rect x="73.71" y="630.55" width="5.4" height="5.4" fill="#0b4a82"/>
<rect x="75.70" y="632.48" width="5.4" height="5.4" fill="#0b4a82"/>
<rect x="77.69" y="634.03" width="5.4" height="5.4" fill="#0b4a82"/>
<rect x="79.68" y="635.58" width="5.4" height="5.4" fill="#0b4a82"/>
<rect x="81.67" y="636.74" width="5.4" height="5.4" fill="#0b4a82"/>
<rect x="83.67" y="637.90" width="5.4" height="5.4" fill="#0b4a82"/>
<rect x="85.66" y="639.06" width="5.4" height="5.4" fill="#0b4a82"/>
<rect x="87.65" y="639.83" width="5.4" height="5.4" fill="#0b4a82"/>
<rect x="89.64" y="640.61" width="5.4" height="5.4" fill="#0b4a82"/>
<rect x="91.63" y="640.99" width="5.4" height="5.4" fill="#0b4a82"/>
<rect x="93.62" y="641.77" width="5.4" height="5.4" fill="#0b4a82"/>
<rect x="95.61" y="642.54" width="5.4" height="5.4" fill="#0b4a82"/>
<rect x="97.60" y="643.70" width="5.4" height="5.4" fill="#0b4a82"/>
<rect x="99.59" y="644.47" width="5.4" height="5.4" fill="#0b4a82"/>
<rect x="101.58" y="645.25" width="5.4" height="5.4" fill="#0b4a82"/>
<rect x="103.58" y="645.63" width="5.4" height="5.4" fill="#0b4a82"/>
<rect x="105.57" y="646.02" width="5.4" height="5.4" fill="#0b4a82"/>
<rect x="107.56" y="646.79" width="5.4" height="5.4" fill="#0b4a82"/>
<rect x="109.55" y="647.18" width="5.4" height="5.4" fill="#0b4a82"/>
<rect x="111.54" y="647.57" width="5.4" height="5.4" fill="#0b4a82"/>
<rect x="113.53" y="647.95" width="5.4" height="5.4" fill="#0b4a82"/>
<rect x="115.52" y="648.34" width="5.4" height="5.4" fill="#0b4a82"/>
<rect x="117.51" y="648.73" width="5.4" height="5.4" fill="#0b4a82"/>
<rect x="119.50" y="649.50" width="5.4" height="5.4" fill="#0b4a82"/>
<rect x="121.49" y="649.89" width="5.4" height="5.4" fill="#0b4a82"/>
<rect x="123.48" y="650.27" width="5.4" height="5.4" fill="#0b4a82"/>
<rect x="125.48" y="650.66" width="5.4" height="5.4" fill="#0b4a82"/>
<rect x="127.47" y="651.05" width="5.4" height="5.4" fill="#0b4a82"/>
<rect x="129.46" y="651.43" width="5.4" height="5.4" fill="#0b4a82"/>
<rect x="131.45" y="651.82" width="5.4" height="5.4" fill="#0b4a82"/>
<rect x="133.44" y="652.21" width="5.4" height="5.4" fill="#0b4a82"/>
<rect x="135.43" y="652.40" width="5.4" height="5.4" fill="#0b4a82"/>
<rect x="137.42" y="652.59" width="5.4" height="5.4" fill="#0b4a82"/>
<rect x="139.41" y="652.79" width="5.4" height="5.4" fill="#0b4a82"/>
<rect x="141.40" y="652.98" width="5.4" height="5.4" fill="#0b4a82"/>
<rect x="143.40" y="653.17" width="5.4" height="5.4" fill="#0b4a82"/>
<rect x="145.39" y="653.37" width="5.4" height="5.4" fill="#0b4a82"/>
<rect x="147.38" y="653.46" width="5.4" height="5.4" fill="#0b4a82"/>
<rect x="149.37" y="653.56" width="5.4" height="5.4" fill="#0b4a82"/>
<rect x="151.36" y="653.66" width="5.4" height="5.4" fill="#0b4a82"/>
<rect x="153.35" y="653.75" width="5.4" height="5.4" fill="#0b4a82"/>
<rect x="155.34" y="653.83" width="5.4" height="5.4" fill="#0b4a82"/>
<rect x="157.33" y="653.91" width="5.4" height="5.4" fill="#0b4a82"/>
<rect x="159.32" y="653.99" width="5.4" height="5.4" fill="#0b4a82"/>
<rect x="161.31" y="654.06" width="5.4" height="5.4" fill="#0b4a82"/>
<rect x="163.31" y="654.14" width="5.4" height="5.4" fill="#0b4a82"/>
<rect x="165.30" y="654.22" width="5.4" height="5.4" fill="#0b4a82"/>
<rect x="167.29" y="654.29" width="5.4" height="5.4" fill="#0b4a82"/>
<rect x="169.28" y="654.37" width="5.4" height="5.4" fill="#0b4a82"/>
<rect x="171.27" y="654.45" width="5.4" height="5.4" fill="#0b4a82"/>
<rect x="173.26" y="654.53" width="5.4" height="5.4" fill="#0b4a82"/>
<rect x="175.25" y="654.57" width="5.4" height="5.4" fill="#0b4a82"/>
<rect x="177.24" y="654.60" width="5.4" height="5.4" fill="#0b4a82"/>
<rect x="179.23" y="654.64" width="5.4" height="5.4" fill="#0b4a82"/>
<rect x="181.22" y="654.68" width="5.4" height="5.4" fill="#0b4a82"/>
<rect x="183.22" y="654.72" width="5.4" height="5.4" fill="#0b4a82"/>
<rect x="185.21" y="654.76" width="5.4" height="5.4" fill="#0b4a82"/>
<rect x="187.20" y="654.80" width="5.4" height="5.4" fill="#0b4a82"/>
<rect x="189.19" y="654.84" width="5.4" height="5.4" fill="#0b4a82"/>
<rect x="191.18" y="654.87" width="5.4" height="5.4" fill="#0b4a82"/>
<rect x="193.17" y="654.91" width="5.4" height="5.4" fill="#0b4a82"/>
<rect x="195.16" y="654.91" width="5.4" height="5.4" fill="#0b4a82"/>
<rect x="197.15" y="654.91" width="5.4" height="5.4" fill="#0b4a82"/>
<rect x="199.14" y="654.91" width="5.4" height="5.4" fill="#0b4a82"/>
<rect x="201.13" y="654.91" width="5.4" height="5.4" fill="#0b4a82"/>
<rect x="203.13" y="654.91" width="5.4" height="5.4" fill="#0b4a82"/>
<rect x="205.12" y="654.91" width="5.4" height="5.4" fill="#0b4a82"/>
<rect x="207.11" y="654.91" width="5.4" height="5.4" fill="#0b4a82"/>
<rect x="209.10" y="654.91" width="5.4" height="5.4" fill="#0b4a82"/>
<rect x="211.09" y="654.91" width="5.4" height="5.4" fill="#0b4a82"/>
<rect x="213.08" y="654.91" width="5.4" height="5.4" fill="#0b4a82"/>
<rect x="215.07" y="654.91" width="5.4" height="5.4" fill="#0b4a82"/>
<rect x="217.06" y="654.91" width="5.4" height="5.4" fill="#0b4a82"/>
<rect x="219.05" y="654.91" width="5.4" height="5.4" fill="#0b4a82"/>
<rect x="221.04" y="654.91" width="5.4" height="5.4" fill="#0b4a82"/>
<rect x="223.04" y="654.91" width="5.4" height="5.4" fill="#0b4a82"/>
<rect x="225.03" y="654.91" width="5.4" height="5.4" fill="#0b4a82"/>
<rect x="227.02" y="654.91" width="5.4" height="5.4" fill="#0b4a82"/>
<rect x="229.01" y="654.91" width="5.4" height="5.4" fill="#0b4a82"/>
<rect x="231.00" y="654.91" width="5.4" height="5.4" fill="#0b4a82"/>
<rect x="232.99" y="654.91" width="5.4" height="5.4" fill="#0b4a82"/>
<path d="M56.50,658.00L58.49,658.00L60.48,658.00L62.47,655.68L64.46,641.76L66.45,630.16L68.45,624.74L70.44,621.65L72.43,620.49L74.42,621.26L76.41,623.20L78.40,626.60L80.39,627.84L82.38,631.09L84.37,633.25L86.37,638.17L88.36,637.12L90.35,640.40L92.34,639.83L94.33,642.87L96.32,641.76L98.31,643.29L100.30,643.31L102.29,644.62L104.28,644.85L106.28,646.54L108.27,645.63L110.26,647.37L112.25,646.79L114.24,647.82L116.23,647.56L118.22,648.64L120.21,645.63L122.20,648.49L124.19,649.49L126.19,651.32L128.18,650.27L130.17,652.77L132.16,649.49L134.15,653.70L136.14,652.20L138.13,651.80L140.12,648.72L142.11,646.94L144.10,650.27L146.09,653.11L148.09,648.72L150.08,652.20L152.07,653.36L154.06,652.59L156.05,651.04L158.04,653.36L160.03,652.59L162.02,649.49L164.01,647.95L166.00,653.36L168.00,654.13L169.99,654.91L171.98,655.29L173.97,655.68L175.96,654.13L177.95,656.07L179.94,655.68L181.93,653.36L183.92,656.07L185.92,656.45L187.91,656.07L189.90,654.91L191.89,653.36L193.88,656.07L195.87,656.45L197.86,653.36L199.85,655.68L201.84,656.84L203.83,657.23L205.83,656.84L207.82,657.23L209.81,657.23L211.80,657.61L213.79,657.23L215.78,657.61L217.77,657.61L219.76,657.61L221.75,657.61L223.74,657.61L225.74,657.61L227.73,657.61L229.72,657.61L231.71,657.61L233.70,657.61L235.69,657.61" fill="none" stroke="#c4002a" stroke-width="1.1" stroke-linejoin="round"/>
<circle cx="56.50" cy="658.00" r="2.85" fill="#c4002a"/>
<circle cx="58.49" cy="658.00" r="2.85" fill="#c4002a"/>
<circle cx="60.48" cy="658.00" r="2.85" fill="#c4002a"/>
<circle cx="62.47" cy="655.68" r="2.85" fill="#c4002a"/>
<circle cx="64.46" cy="641.76" r="2.85" fill="#c4002a"/>
<circle cx="66.45" cy="630.16" r="2.85" fill="#c4002a"/>
<circle cx="68.45" cy="624.74" r="2.85" fill="#c4002a"/>
<circle cx="70.44" cy="621.65" r="2.85" fill="#c4002a"/>
<circle cx="72.43" cy="620.49" r="2.85" fill="#c4002a"/>
<circle cx="74.42" cy="621.26" r="2.85" fill="#c4002a"/>
<circle cx="76.41" cy="623.20" r="2.85" fill="#c4002a"/>
<circle cx="78.40" cy="626.60" r="2.85" fill="#c4002a"/>
<circle cx="80.39" cy="627.84" r="2.85" fill="#c4002a"/>
<circle cx="82.38" cy="631.09" r="2.85" fill="#c4002a"/>
<circle cx="84.37" cy="633.25" r="2.85" fill="#c4002a"/>
<circle cx="86.37" cy="638.17" r="2.85" fill="#c4002a"/>
<circle cx="88.36" cy="637.12" r="2.85" fill="#c4002a"/>
<circle cx="90.35" cy="640.40" r="2.85" fill="#c4002a"/>
<circle cx="92.34" cy="639.83" r="2.85" fill="#c4002a"/>
<circle cx="94.33" cy="642.87" r="2.85" fill="#c4002a"/>
<circle cx="96.32" cy="641.76" r="2.85" fill="#c4002a"/>
<circle cx="98.31" cy="643.29" r="2.85" fill="#c4002a"/>
<circle cx="100.30" cy="643.31" r="2.85" fill="#c4002a"/>
<circle cx="102.29" cy="644.62" r="2.85" fill="#c4002a"/>
<circle cx="104.28" cy="644.85" r="2.85" fill="#c4002a"/>
<circle cx="106.28" cy="646.54" r="2.85" fill="#c4002a"/>
<circle cx="108.27" cy="645.63" r="2.85" fill="#c4002a"/>
<circle cx="110.26" cy="647.37" r="2.85" fill="#c4002a"/>
<circle cx="112.25" cy="646.79" r="2.85" fill="#c4002a"/>
<circle cx="114.24" cy="647.82" r="2.85" fill="#c4002a"/>
<circle cx="116.23" cy="647.56" r="2.85" fill="#c4002a"/>
<circle cx="118.22" cy="648.64" r="2.85" fill="#c4002a"/>
<circle cx="120.21" cy="645.63" r="2.85" fill="#c4002a"/>
<circle cx="122.20" cy="648.49" r="2.85" fill="#c4002a"/>
<circle cx="124.19" cy="649.49" r="2.85" fill="#c4002a"/>
<circle cx="126.19" cy="651.32" r="2.85" fill="#c4002a"/>
<circle cx="128.18" cy="650.27" r="2.85" fill="#c4002a"/>
<circle cx="130.17" cy="652.77" r="2.85" fill="#c4002a"/>
<circle cx="132.16" cy="649.49" r="2.85" fill="#c4002a"/>
<circle cx="134.15" cy="653.70" r="2.85" fill="#c4002a"/>
<circle cx="136.14" cy="652.20" r="2.85" fill="#c4002a"/>
<circle cx="138.13" cy="651.80" r="2.85" fill="#c4002a"/>
<circle cx="140.12" cy="648.72" r="2.85" fill="#c4002a"/>
<circle cx="142.11" cy="646.94" r="2.85" fill="#c4002a"/>
<circle cx="144.10" cy="650.27" r="2.85" fill="#c4002a"/>
<circle cx="146.09" cy="653.11" r="2.85" fill="#c4002a"/>
<circle cx="148.09" cy="648.72" r="2.85" fill="#c4002a"/>
<circle cx="150.08" cy="652.20" r="2.85" fill="#c4002a"/>
<circle cx="152.07" cy="653.36" r="2.85" fill="#c4002a"/>
<circle cx="154.06" cy="652.59" r="2.85" fill="#c4002a"/>
<circle cx="156.05" cy="651.04" r="2.85" fill="#c4002a"/>
<circle cx="158.04" cy="653.36" r="2.85" fill="#c4002a"/>
<circle cx="160.03" cy="652.59" r="2.85" fill="#c4002a"/>
<circle cx="162.02" cy="649.49" r="2.85" fill="#c4002a"/>
<circle cx="164.01" cy="647.95" r="2.85" fill="#c4002a"/>
<circle cx="166.00" cy="653.36" r="2.85" fill="#c4002a"/>
<circle cx="168.00" cy="654.13" r="2.85" fill="#c4002a"/>
<circle cx="169.99" cy="654.91" r="2.85" fill="#c4002a"/>
<circle cx="171.98" cy="655.29" r="2.85" fill="#c4002a"/>
<circle cx="173.97" cy="655.68" r="2.85" fill="#c4002a"/>
<circle cx="175.96" cy="654.13" r="2.85" fill="#c4002a"/>
<circle cx="177.95" cy="656.07" r="2.85" fill="#c4002a"/>
<circle cx="179.94" cy="655.68" r="2.85" fill="#c4002a"/>
<circle cx="181.93" cy="653.36" r="2.85" fill="#c4002a"/>
<circle cx="183.92" cy="656.07" r="2.85" fill="#c4002a"/>
<circle cx="185.92" cy="656.45" r="2.85" fill="#c4002a"/>
<circle cx="187.91" cy="656.07" r="2.85" fill="#c4002a"/>
<circle cx="189.90" cy="654.91" r="2.85" fill="#c4002a"/>
<circle cx="191.89" cy="653.36" r="2.85" fill="#c4002a"/>
<circle cx="193.88" cy="656.07" r="2.85" fill="#c4002a"/>
<circle cx="195.87" cy="656.45" r="2.85" fill="#c4002a"/>
<circle cx="197.86" cy="653.36" r="2.85" fill="#c4002a"/>
<circle cx="199.85" cy="655.68" r="2.85" fill="#c4002a"/>
<circle cx="201.84" cy="656.84" r="2.85" fill="#c4002a"/>
<circle cx="203.83" cy="657.23" r="2.85" fill="#c4002a"/>
<circle cx="205.83" cy="656.84" r="2.85" fill="#c4002a"/>
<circle cx="207.82" cy="657.23" r="2.85" fill="#c4002a"/>
<circle cx="209.81" cy="657.23" r="2.85" fill="#c4002a"/>
<circle cx="211.80" cy="657.61" r="2.85" fill="#c4002a"/>
<circle cx="213.79" cy="657.23" r="2.85" fill="#c4002a"/>
<circle cx="215.78" cy="657.61" r="2.85" fill="#c4002a"/>
<circle cx="217.77" cy="657.61" r="2.85" fill="#c4002a"/>
<circle cx="219.76" cy="657.61" r="2.85" fill="#c4002a"/>
<circle cx="221.75" cy="657.61" r="2.85" fill="#c4002a"/>
<circle cx="223.74" cy="657.61" r="2.85" fill="#c4002a"/>
<circle cx="225.74" cy="657.61" r="2.85" fill="#c4002a"/>
<circle cx="227.73" cy="657.61" r="2.85" fill="#c4002a"/>
<circle cx="229.72" cy="657.61" r="2.85" fill="#c4002a"/>
<circle cx="231.71" cy="657.61" r="2.85" fill="#c4002a"/>
<circle cx="233.70" cy="657.61" r="2.85" fill="#c4002a"/>
<circle cx="235.69" cy="657.61" r="2.85" fill="#c4002a"/>
<path d="M56.50,658.00L58.49,658.00L60.48,658.00L62.47,658.00L64.46,649.11L66.45,641.99L68.45,639.50L70.44,638.08L72.43,637.72L74.42,638.79L76.41,640.92L78.40,642.35L80.39,643.77L82.38,645.19L84.37,646.26L86.37,647.33L88.36,648.04L90.35,648.75L92.34,649.11L94.33,649.46L96.32,650.17L98.31,650.88L100.30,651.60L102.29,651.95L104.28,652.66L106.28,653.02L108.27,653.38L110.26,653.73L112.25,654.09L114.24,654.44L116.23,654.80L118.22,655.15L120.21,655.51L122.20,655.87L124.19,656.22L126.19,656.22L128.18,656.58L130.17,656.93L132.16,656.93L134.15,657.29L136.14,657.29L138.13,657.36L140.12,657.43L142.11,657.50L144.10,657.57L146.09,657.64L148.09,657.64L150.08,657.64L152.07,657.64L154.06,657.64L156.05,657.64L158.04,657.65L160.03,657.66L162.02,657.67L164.01,657.68L166.00,657.69L168.00,657.70L169.99,657.71L171.98,657.72L173.97,657.72L175.96,657.73L177.95,657.74L179.94,657.75L181.93,657.76L183.92,657.77L185.92,657.78L187.91,657.79L189.90,657.80L191.89,657.80L193.88,657.81L195.87,657.82L197.86,657.83L199.85,657.84L201.84,657.85L203.83,657.86L205.83,657.87L207.82,657.88L209.81,657.88L211.80,657.89L213.79,657.90L215.78,657.91L217.77,657.92L219.76,657.93L221.75,657.94L223.74,657.95L225.74,657.96L227.73,657.96L229.72,657.97L231.71,657.98L233.70,657.99L235.69,658.00" fill="none" stroke="#62206f" stroke-width="1.1" stroke-linejoin="round"/>
<path d="M53.35,660.85L59.65,660.85L56.50,655.15Z" fill="#62206f"/>
<path d="M55.34,660.85L61.64,660.85L58.49,655.15Z" fill="#62206f"/>
<path d="M57.33,660.85L63.63,660.85L60.48,655.15Z" fill="#62206f"/>
<path d="M59.32,660.85L65.62,660.85L62.47,655.15Z" fill="#62206f"/>
<path d="M61.31,651.96L67.61,651.96L64.46,646.26Z" fill="#62206f"/>
<path d="M63.30,644.84L69.61,644.84L66.45,639.14Z" fill="#62206f"/>
<path d="M65.30,642.35L71.60,642.35L68.45,636.65Z" fill="#62206f"/>
<path d="M67.29,640.93L73.59,640.93L70.44,635.23Z" fill="#62206f"/>
<path d="M69.28,640.57L75.58,640.57L72.43,634.87Z" fill="#62206f"/>
<path d="M71.27,641.64L77.57,641.64L74.42,635.94Z" fill="#62206f"/>
<path d="M73.26,643.77L79.56,643.77L76.41,638.07Z" fill="#62206f"/>
<path d="M75.25,645.20L81.55,645.20L78.40,639.50Z" fill="#62206f"/>
<path d="M77.24,646.62L83.54,646.62L80.39,640.92Z" fill="#62206f"/>
<path d="M79.23,648.04L85.53,648.04L82.38,642.34Z" fill="#62206f"/>
<path d="M81.22,649.11L87.52,649.11L84.37,643.41Z" fill="#62206f"/>
<path d="M83.22,650.18L89.52,650.18L86.37,644.48Z" fill="#62206f"/>
<path d="M85.21,650.89L91.51,650.89L88.36,645.19Z" fill="#62206f"/>
<path d="M87.20,651.60L93.50,651.60L90.35,645.90Z" fill="#62206f"/>
<path d="M89.19,651.96L95.49,651.96L92.34,646.26Z" fill="#62206f"/>
<path d="M91.18,652.31L97.48,652.31L94.33,646.61Z" fill="#62206f"/>
<path d="M93.17,653.02L99.47,653.02L96.32,647.32Z" fill="#62206f"/>
<path d="M95.16,653.73L101.46,653.73L98.31,648.03Z" fill="#62206f"/>
<path d="M97.15,654.45L103.45,654.45L100.30,648.75Z" fill="#62206f"/>
<path d="M99.14,654.80L105.44,654.80L102.29,649.10Z" fill="#62206f"/>
<path d="M101.13,655.51L107.43,655.51L104.28,649.81Z" fill="#62206f"/>
<path d="M103.12,655.87L109.43,655.87L106.28,650.17Z" fill="#62206f"/>
<path d="M105.12,656.23L111.42,656.23L108.27,650.53Z" fill="#62206f"/>
<path d="M107.11,656.58L113.41,656.58L110.26,650.88Z" fill="#62206f"/>
<path d="M109.10,656.94L115.40,656.94L112.25,651.24Z" fill="#62206f"/>
<path d="M111.09,657.29L117.39,657.29L114.24,651.59Z" fill="#62206f"/>
<path d="M113.08,657.65L119.38,657.65L116.23,651.95Z" fill="#62206f"/>
<path d="M115.07,658.00L121.37,658.00L118.22,652.30Z" fill="#62206f"/>
<path d="M117.06,658.36L123.36,658.36L120.21,652.66Z" fill="#62206f"/>
<path d="M119.05,658.72L125.35,658.72L122.20,653.02Z" fill="#62206f"/>
<path d="M121.04,659.07L127.34,659.07L124.19,653.37Z" fill="#62206f"/>
<path d="M123.03,659.07L129.34,659.07L126.19,653.37Z" fill="#62206f"/>
<path d="M125.03,659.43L131.33,659.43L128.18,653.73Z" fill="#62206f"/>
<path d="M127.02,659.78L133.32,659.78L130.17,654.08Z" fill="#62206f"/>
<path d="M129.01,659.78L135.31,659.78L132.16,654.08Z" fill="#62206f"/>
<path d="M131.00,660.14L137.30,660.14L134.15,654.44Z" fill="#62206f"/>
<path d="M132.99,660.14L139.29,660.14L136.14,654.44Z" fill="#62206f"/>
<path d="M134.98,660.21L141.28,660.21L138.13,654.51Z" fill="#62206f"/>
<path d="M136.97,660.28L143.27,660.28L140.12,654.58Z" fill="#62206f"/>
<path d="M138.96,660.35L145.26,660.35L142.11,654.65Z" fill="#62206f"/>
<path d="M140.95,660.42L147.25,660.42L144.10,654.72Z" fill="#62206f"/>
<path d="M142.94,660.49L149.25,660.49L146.09,654.79Z" fill="#62206f"/>
<path d="M144.94,660.49L151.24,660.49L148.09,654.79Z" fill="#62206f"/>
<path d="M146.93,660.49L153.23,660.49L150.08,654.79Z" fill="#62206f"/>
<path d="M148.92,660.49L155.22,660.49L152.07,654.79Z" fill="#62206f"/>
<path d="M150.91,660.49L157.21,660.49L154.06,654.79Z" fill="#62206f"/>
<path d="M152.90,660.49L159.20,660.49L156.05,654.79Z" fill="#62206f"/>
<path d="M154.89,660.50L161.19,660.50L158.04,654.80Z" fill="#62206f"/>
<path d="M156.88,660.51L163.18,660.51L160.03,654.81Z" fill="#62206f"/>
<path d="M158.87,660.52L165.17,660.52L162.02,654.82Z" fill="#62206f"/>
<path d="M160.86,660.53L167.16,660.53L164.01,654.83Z" fill="#62206f"/>
<path d="M162.85,660.54L169.16,660.54L166.00,654.84Z" fill="#62206f"/>
<path d="M164.85,660.55L171.15,660.55L168.00,654.85Z" fill="#62206f"/>
<path d="M166.84,660.56L173.14,660.56L169.99,654.86Z" fill="#62206f"/>
<path d="M168.83,660.57L175.13,660.57L171.98,654.87Z" fill="#62206f"/>
<path d="M170.82,660.57L177.12,660.57L173.97,654.87Z" fill="#62206f"/>
<path d="M172.81,660.58L179.11,660.58L175.96,654.88Z" fill="#62206f"/>
<path d="M174.80,660.59L181.10,660.59L177.95,654.89Z" fill="#62206f"/>
<path d="M176.79,660.60L183.09,660.60L179.94,654.90Z" fill="#62206f"/>
<path d="M178.78,660.61L185.08,660.61L181.93,654.91Z" fill="#62206f"/>
<path d="M180.77,660.62L187.07,660.62L183.92,654.92Z" fill="#62206f"/>
<path d="M182.77,660.63L189.07,660.63L185.92,654.93Z" fill="#62206f"/>
<path d="M184.76,660.64L191.06,660.64L187.91,654.94Z" fill="#62206f"/>
<path d="M186.75,660.65L193.05,660.65L189.90,654.95Z" fill="#62206f"/>
<path d="M188.74,660.65L195.04,660.65L191.89,654.95Z" fill="#62206f"/>
<path d="M190.73,660.66L197.03,660.66L193.88,654.96Z" fill="#62206f"/>
<path d="M192.72,660.67L199.02,660.67L195.87,654.97Z" fill="#62206f"/>
<path d="M194.71,660.68L201.01,660.68L197.86,654.98Z" fill="#62206f"/>
<path d="M196.70,660.69L203.00,660.69L199.85,654.99Z" fill="#62206f"/>
<path d="M198.69,660.70L204.99,660.70L201.84,655.00Z" fill="#62206f"/>
<path d="M200.68,660.71L206.98,660.71L203.83,655.01Z" fill="#62206f"/>
<path d="M202.68,660.72L208.98,660.72L205.83,655.02Z" fill="#62206f"/>
<path d="M204.67,660.73L210.97,660.73L207.82,655.03Z" fill="#62206f"/>
<path d="M206.66,660.73L212.96,660.73L209.81,655.03Z" fill="#62206f"/>
<path d="M208.65,660.74L214.95,660.74L211.80,655.04Z" fill="#62206f"/>
<path d="M210.64,660.75L216.94,660.75L213.79,655.05Z" fill="#62206f"/>
<path d="M212.63,660.76L218.93,660.76L215.78,655.06Z" fill="#62206f"/>
<path d="M214.62,660.77L220.92,660.77L217.77,655.07Z" fill="#62206f"/>
<path d="M216.61,660.78L222.91,660.78L219.76,655.08Z" fill="#62206f"/>
<path d="M218.60,660.79L224.90,660.79L221.75,655.09Z" fill="#62206f"/>
<path d="M220.59,660.80L226.89,660.80L223.74,655.10Z" fill="#62206f"/>
<path d="M222.59,660.81L228.89,660.81L225.74,655.11Z" fill="#62206f"/>
<path d="M224.58,660.81L230.88,660.81L227.73,655.11Z" fill="#62206f"/>
<path d="M226.57,660.82L232.87,660.82L229.72,655.12Z" fill="#62206f"/>
<path d="M228.56,660.83L234.86,660.83L231.71,655.13Z" fill="#62206f"/>
<path d="M230.55,660.84L236.85,660.84L233.70,655.14Z" fill="#62206f"/>
<path d="M232.54,660.85L238.84,660.85L235.69,655.15Z" fill="#62206f"/>
<text transform="translate(23.60,598.00) rotate(-90)" x="0" y="0" font-size="11.5" font-weight="normal" stroke="#222222" stroke-width="0.4" text-anchor="middle" fill="#2a2a2a" textLength="36" lengthAdjust="spacingAndGlyphs">ETP (nM)</text>
<text x="127.90" y="692.10" font-size="11.8" font-weight="normal" stroke="#222222" stroke-width="0.4" fill="#2a2a2a" textLength="41.5" lengthAdjust="spacingAndGlyphs">Time (min)</text>
<line x1="121.3" y1="550.60" x2="139" y2="550.60" stroke="#0b4a82" stroke-width="1.5"/>
<rect x="127.15" y="547.60" width="6.0" height="6.0" fill="#0b4a82"/>
<text x="144.50" y="553.70" fill="#2a2a2a" stroke="#2a2a2a" stroke-width="0.12" text-anchor="start" ><tspan font-style="italic" font-size="8.90">Pitpβ</tspan><tspan font-style="italic" font-size="4.45" dy="-4.45" fill="#555" stroke="none">fl/fl</tspan><tspan font-style="italic" font-size="8.90" dy="4.45">Pf4Cre</tspan><tspan font-style="normal" font-size="5.34" dy="-4.45" stroke="none">−</tspan><tspan font-style="normal" font-size="8.90" dy="4.45"> PPP</tspan></text>
<line x1="121.3" y1="568.40" x2="139" y2="568.40" stroke="#c4002a" stroke-width="1.5"/>
<circle cx="130.15" cy="568.40" r="3.15" fill="#c4002a"/>
<text x="144.50" y="571.50" fill="#2a2a2a" stroke="#2a2a2a" stroke-width="0.12" text-anchor="start" ><tspan font-style="italic" font-size="8.90">Pitpβ</tspan><tspan font-style="italic" font-size="4.45" dy="-4.45" fill="#555" stroke="none">fl/fl</tspan><tspan font-style="italic" font-size="8.90" dy="4.45">Pf4Cre</tspan><tspan font-style="normal" font-size="5.34" dy="-4.45" stroke="none">+</tspan><tspan font-style="normal" font-size="8.90" dy="4.45"> PPP</tspan></text>
<line x1="121.3" y1="586.20" x2="139" y2="586.20" stroke="#62206f" stroke-width="1.5"/>
<path d="M126.70,589.35L133.60,589.35L130.15,583.05Z" fill="#62206f"/>
<text x="144.50" y="589.30" fill="#2a2a2a" stroke="#2a2a2a" stroke-width="0.12" text-anchor="start" ><tspan font-style="italic" font-size="8.90">Pitpα</tspan><tspan font-style="italic" font-size="4.45" dy="-4.45" fill="#555" stroke="none">fl/fl</tspan><tspan font-style="italic" font-size="8.90" dy="4.45">/β</tspan><tspan font-style="italic" font-size="4.45" dy="-4.45" fill="#555" stroke="none">fl/fl</tspan><tspan font-style="italic" font-size="8.90" dy="4.45">Pf4Cre</tspan><tspan font-style="normal" font-size="5.34" dy="-4.45" stroke="none">+</tspan><tspan font-style="normal" font-size="8.90" dy="4.45"> PPP</tspan></text>
<text x="270.20" y="532.50" font-size="17.2" text-anchor="start" fill="#111" font-weight="bold" font-style="normal" stroke="#111" stroke-width="0.4">F</text>
<line x1="325.3" y1="540.3" x2="325.3" y2="658.3" stroke="#111111" stroke-width="1.5"/>
<line x1="324.7" y1="657.8" x2="508.5" y2="657.8" stroke="#111111" stroke-width="1.5"/>
<line x1="320.8" y1="657.80" x2="325.3" y2="657.80" stroke="#111111" stroke-width="1.3"/>
<text transform="translate(316.90,661.70) scale(0.9,1)" x="0" y="0" font-size="10.3" text-anchor="end" fill="#2a2a2a" font-weight="normal" font-style="normal" letter-spacing="0.7" stroke="#2a2a2a" stroke-width="0.12">0.0</text>
<line x1="320.8" y1="638.83" x2="325.3" y2="638.83" stroke="#111111" stroke-width="1.3"/>
<text transform="translate(316.90,642.73) scale(0.9,1)" x="0" y="0" font-size="10.3" text-anchor="end" fill="#2a2a2a" font-weight="normal" font-style="normal" letter-spacing="0.7" stroke="#2a2a2a" stroke-width="0.12">50.0</text>
<line x1="320.8" y1="619.87" x2="325.3" y2="619.87" stroke="#111111" stroke-width="1.3"/>
<text transform="translate(316.90,623.77) scale(0.9,1)" x="0" y="0" font-size="10.3" text-anchor="end" fill="#2a2a2a" font-weight="normal" font-style="normal" letter-spacing="0.7" stroke="#2a2a2a" stroke-width="0.12">100.0</text>
<line x1="320.8" y1="600.90" x2="325.3" y2="600.90" stroke="#111111" stroke-width="1.3"/>
<text transform="translate(316.90,604.80) scale(0.9,1)" x="0" y="0" font-size="10.3" text-anchor="end" fill="#2a2a2a" font-weight="normal" font-style="normal" letter-spacing="0.7" stroke="#2a2a2a" stroke-width="0.12">150.0</text>
<line x1="320.8" y1="581.94" x2="325.3" y2="581.94" stroke="#111111" stroke-width="1.3"/>
<text transform="translate(316.90,585.84) scale(0.9,1)" x="0" y="0" font-size="10.3" text-anchor="end" fill="#2a2a2a" font-weight="normal" font-style="normal" letter-spacing="0.7" stroke="#2a2a2a" stroke-width="0.12">200.0</text>
<line x1="320.8" y1="562.97" x2="325.3" y2="562.97" stroke="#111111" stroke-width="1.3"/>
<text transform="translate(316.90,566.87) scale(0.9,1)" x="0" y="0" font-size="10.3" text-anchor="end" fill="#2a2a2a" font-weight="normal" font-style="normal" letter-spacing="0.7" stroke="#2a2a2a" stroke-width="0.12">250.0</text>
<line x1="320.8" y1="544.01" x2="325.3" y2="544.01" stroke="#111111" stroke-width="1.3"/>
<text transform="translate(316.90,547.91) scale(0.9,1)" x="0" y="0" font-size="10.3" text-anchor="end" fill="#2a2a2a" font-weight="normal" font-style="normal" letter-spacing="0.7" stroke="#2a2a2a" stroke-width="0.12">300.0</text>
<line x1="325.00" y1="657.8" x2="325.00" y2="662.0999999999999" stroke="#111111" stroke-width="1.3"/>
<text transform="translate(325.50,676.10) scale(0.9,1)" x="0" y="0" font-size="10.3" text-anchor="middle" fill="#2a2a2a" font-weight="normal" font-style="normal" letter-spacing="0.7" stroke="#2a2a2a" stroke-width="0.12">0</text>
<line x1="344.96" y1="657.8" x2="344.96" y2="662.0999999999999" stroke="#111111" stroke-width="1.3"/>
<text transform="translate(345.46,676.10) scale(0.9,1)" x="0" y="0" font-size="10.3" text-anchor="middle" fill="#2a2a2a" font-weight="normal" font-style="normal" letter-spacing="0.7" stroke="#2a2a2a" stroke-width="0.12">10</text>
<line x1="364.92" y1="657.8" x2="364.92" y2="662.0999999999999" stroke="#111111" stroke-width="1.3"/>
<text transform="translate(365.42,676.10) scale(0.9,1)" x="0" y="0" font-size="10.3" text-anchor="middle" fill="#2a2a2a" font-weight="normal" font-style="normal" letter-spacing="0.7" stroke="#2a2a2a" stroke-width="0.12">20</text>
<line x1="384.88" y1="657.8" x2="384.88" y2="662.0999999999999" stroke="#111111" stroke-width="1.3"/>
<text transform="translate(385.38,676.10) scale(0.9,1)" x="0" y="0" font-size="10.3" text-anchor="middle" fill="#2a2a2a" font-weight="normal" font-style="normal" letter-spacing="0.7" stroke="#2a2a2a" stroke-width="0.12">30</text>
<line x1="404.84" y1="657.8" x2="404.84" y2="662.0999999999999" stroke="#111111" stroke-width="1.3"/>
<text transform="translate(405.34,676.10) scale(0.9,1)" x="0" y="0" font-size="10.3" text-anchor="middle" fill="#2a2a2a" font-weight="normal" font-style="normal" letter-spacing="0.7" stroke="#2a2a2a" stroke-width="0.12">40</text>
<line x1="424.80" y1="657.8" x2="424.80" y2="662.0999999999999" stroke="#111111" stroke-width="1.3"/>
<text transform="translate(425.30,676.10) scale(0.9,1)" x="0" y="0" font-size="10.3" text-anchor="middle" fill="#2a2a2a" font-weight="normal" font-style="normal" letter-spacing="0.7" stroke="#2a2a2a" stroke-width="0.12">50</text>
<line x1="444.76" y1="657.8" x2="444.76" y2="662.0999999999999" stroke="#111111" stroke-width="1.3"/>
<text transform="translate(445.26,676.10) scale(0.9,1)" x="0" y="0" font-size="10.3" text-anchor="middle" fill="#2a2a2a" font-weight="normal" font-style="normal" letter-spacing="0.7" stroke="#2a2a2a" stroke-width="0.12">60</text>
<line x1="464.72" y1="657.8" x2="464.72" y2="662.0999999999999" stroke="#111111" stroke-width="1.3"/>
<text transform="translate(465.22,676.10) scale(0.9,1)" x="0" y="0" font-size="10.3" text-anchor="middle" fill="#2a2a2a" font-weight="normal" font-style="normal" letter-spacing="0.7" stroke="#2a2a2a" stroke-width="0.12">70</text>
<line x1="484.68" y1="657.8" x2="484.68" y2="662.0999999999999" stroke="#111111" stroke-width="1.3"/>
<text transform="translate(485.18,676.10) scale(0.9,1)" x="0" y="0" font-size="10.3" text-anchor="middle" fill="#2a2a2a" font-weight="normal" font-style="normal" letter-spacing="0.7" stroke="#2a2a2a" stroke-width="0.12">80</text>
<line x1="504.64" y1="657.8" x2="504.64" y2="662.0999999999999" stroke="#111111" stroke-width="1.3"/>
<text transform="translate(505.14,676.10) scale(0.9,1)" x="0" y="0" font-size="10.3" text-anchor="middle" fill="#2a2a2a" font-weight="normal" font-style="normal" letter-spacing="0.7" stroke="#2a2a2a" stroke-width="0.12">90</text>
<path d="M325.00,657.80L327.00,657.80L328.99,657.80L330.99,657.80L332.98,657.80L334.98,657.80L336.98,657.80L338.97,657.80L340.97,657.80L342.96,657.80L344.96,657.80L346.96,657.80L348.95,657.80L350.95,657.80L352.94,657.80L354.94,657.80L356.94,657.80L358.93,657.80L360.93,657.80L362.92,657.80L364.92,657.80L366.92,657.80L368.91,657.80L370.91,657.80L372.90,657.80L374.90,657.80L376.90,657.80L378.89,657.80L380.89,657.80L382.88,657.80L384.88,657.80L386.88,657.80L388.87,657.80L390.87,657.80L392.86,657.80L394.86,657.80L396.86,657.80L398.85,657.80L400.85,657.80L402.84,657.80L404.84,657.80L406.84,657.80L408.83,657.80L410.83,657.80L412.82,657.80L414.82,657.80L416.82,657.80L418.81,657.80L420.81,657.80L422.80,657.80L424.80,657.80L426.80,657.80L428.79,657.80L430.79,657.80L432.78,657.80L434.78,657.80L436.78,657.80L438.77,657.80L440.77,657.80L442.76,657.80L444.76,657.80L446.76,657.80L448.75,657.80L450.75,657.80L452.74,657.80L454.74,657.80L456.74,657.80L458.73,657.80L460.73,657.80L462.72,657.80L464.72,657.80L466.72,657.80L468.71,657.80L470.71,657.80L472.70,657.80L474.70,657.80L476.70,657.80L478.69,657.80L480.69,657.80L482.68,657.80L484.68,657.80L486.68,657.80L488.67,657.80L490.67,657.80L492.66,657.80L494.66,657.80L496.66,657.80L498.65,657.80L500.65,657.80L502.64,657.80L504.64,657.80" fill="none" stroke="#0b4a82" stroke-width="1.1" stroke-linejoin="round"/>
<rect x="322.30" y="655.10" width="5.4" height="5.4" fill="#0b4a82"/>
<rect x="324.30" y="655.10" width="5.4" height="5.4" fill="#0b4a82"/>
<rect x="326.29" y="655.10" width="5.4" height="5.4" fill="#0b4a82"/>
<rect x="328.29" y="655.10" width="5.4" height="5.4" fill="#0b4a82"/>
<rect x="330.28" y="655.10" width="5.4" height="5.4" fill="#0b4a82"/>
<rect x="332.28" y="655.10" width="5.4" height="5.4" fill="#0b4a82"/>
<rect x="334.28" y="655.10" width="5.4" height="5.4" fill="#0b4a82"/>
<rect x="336.27" y="655.10" width="5.4" height="5.4" fill="#0b4a82"/>
<rect x="338.27" y="655.10" width="5.4" height="5.4" fill="#0b4a82"/>
<rect x="340.26" y="655.10" width="5.4" height="5.4" fill="#0b4a82"/>
<rect x="342.26" y="655.10" width="5.4" height="5.4" fill="#0b4a82"/>
<rect x="344.26" y="655.10" width="5.4" height="5.4" fill="#0b4a82"/>
<rect x="346.25" y="655.10" width="5.4" height="5.4" fill="#0b4a82"/>
<rect x="348.25" y="655.10" width="5.4" height="5.4" fill="#0b4a82"/>
<rect x="350.24" y="655.10" width="5.4" height="5.4" fill="#0b4a82"/>
<rect x="352.24" y="655.10" width="5.4" height="5.4" fill="#0b4a82"/>
<rect x="354.24" y="655.10" width="5.4" height="5.4" fill="#0b4a82"/>
<rect x="356.23" y="655.10" width="5.4" height="5.4" fill="#0b4a82"/>
<rect x="358.23" y="655.10" width="5.4" height="5.4" fill="#0b4a82"/>
<rect x="360.22" y="655.10" width="5.4" height="5.4" fill="#0b4a82"/>
<rect x="362.22" y="655.10" width="5.4" height="5.4" fill="#0b4a82"/>
<rect x="364.22" y="655.10" width="5.4" height="5.4" fill="#0b4a82"/>
<rect x="366.21" y="655.10" width="5.4" height="5.4" fill="#0b4a82"/>
<rect x="368.21" y="655.10" width="5.4" height="5.4" fill="#0b4a82"/>
<rect x="370.20" y="655.10" width="5.4" height="5.4" fill="#0b4a82"/>
<rect x="372.20" y="655.10" width="5.4" height="5.4" fill="#0b4a82"/>
<rect x="374.20" y="655.10" width="5.4" height="5.4" fill="#0b4a82"/>
<rect x="376.19" y="655.10" width="5.4" height="5.4" fill="#0b4a82"/>
<rect x="378.19" y="655.10" width="5.4" height="5.4" fill="#0b4a82"/>
<rect x="380.18" y="655.10" width="5.4" height="5.4" fill="#0b4a82"/>
<rect x="382.18" y="655.10" width="5.4" height="5.4" fill="#0b4a82"/>
<rect x="384.18" y="655.10" width="5.4" height="5.4" fill="#0b4a82"/>
<rect x="386.17" y="655.10" width="5.4" height="5.4" fill="#0b4a82"/>
<rect x="388.17" y="655.10" width="5.4" height="5.4" fill="#0b4a82"/>
<rect x="390.16" y="655.10" width="5.4" height="5.4" fill="#0b4a82"/>
<rect x="392.16" y="655.10" width="5.4" height="5.4" fill="#0b4a82"/>
<rect x="394.16" y="655.10" width="5.4" height="5.4" fill="#0b4a82"/>
<rect x="396.15" y="655.10" width="5.4" height="5.4" fill="#0b4a82"/>
<rect x="398.15" y="655.10" width="5.4" height="5.4" fill="#0b4a82"/>
<rect x="400.14" y="655.10" width="5.4" height="5.4" fill="#0b4a82"/>
<rect x="402.14" y="655.10" width="5.4" height="5.4" fill="#0b4a82"/>
<rect x="404.14" y="655.10" width="5.4" height="5.4" fill="#0b4a82"/>
<rect x="406.13" y="655.10" width="5.4" height="5.4" fill="#0b4a82"/>
<rect x="408.13" y="655.10" width="5.4" height="5.4" fill="#0b4a82"/>
<rect x="410.12" y="655.10" width="5.4" height="5.4" fill="#0b4a82"/>
<rect x="412.12" y="655.10" width="5.4" height="5.4" fill="#0b4a82"/>
<rect x="414.12" y="655.10" width="5.4" height="5.4" fill="#0b4a82"/>
<rect x="416.11" y="655.10" width="5.4" height="5.4" fill="#0b4a82"/>
<rect x="418.11" y="655.10" width="5.4" height="5.4" fill="#0b4a82"/>
<rect x="420.10" y="655.10" width="5.4" height="5.4" fill="#0b4a82"/>
<rect x="422.10" y="655.10" width="5.4" height="5.4" fill="#0b4a82"/>
<rect x="424.10" y="655.10" width="5.4" height="5.4" fill="#0b4a82"/>
<rect x="426.09" y="655.10" width="5.4" height="5.4" fill="#0b4a82"/>
<rect x="428.09" y="655.10" width="5.4" height="5.4" fill="#0b4a82"/>
<rect x="430.08" y="655.10" width="5.4" height="5.4" fill="#0b4a82"/>
<rect x="432.08" y="655.10" width="5.4" height="5.4" fill="#0b4a82"/>
<rect x="434.08" y="655.10" width="5.4" height="5.4" fill="#0b4a82"/>
<rect x="436.07" y="655.10" width="5.4" height="5.4" fill="#0b4a82"/>
<rect x="438.07" y="655.10" width="5.4" height="5.4" fill="#0b4a82"/>
<rect x="440.06" y="655.10" width="5.4" height="5.4" fill="#0b4a82"/>
<rect x="442.06" y="655.10" width="5.4" height="5.4" fill="#0b4a82"/>
<rect x="444.06" y="655.10" width="5.4" height="5.4" fill="#0b4a82"/>
<rect x="446.05" y="655.10" width="5.4" height="5.4" fill="#0b4a82"/>
<rect x="448.05" y="655.10" width="5.4" height="5.4" fill="#0b4a82"/>
<rect x="450.04" y="655.10" width="5.4" height="5.4" fill="#0b4a82"/>
<rect x="452.04" y="655.10" width="5.4" height="5.4" fill="#0b4a82"/>
<rect x="454.04" y="655.10" width="5.4" height="5.4" fill="#0b4a82"/>
<rect x="456.03" y="655.10" width="5.4" height="5.4" fill="#0b4a82"/>
<rect x="458.03" y="655.10" width="5.4" height="5.4" fill="#0b4a82"/>
<rect x="460.02" y="655.10" width="5.4" height="5.4" fill="#0b4a82"/>
<rect x="462.02" y="655.10" width="5.4" height="5.4" fill="#0b4a82"/>
<rect x="464.02" y="655.10" width="5.4" height="5.4" fill="#0b4a82"/>
<rect x="466.01" y="655.10" width="5.4" height="5.4" fill="#0b4a82"/>
<rect x="468.01" y="655.10" width="5.4" height="5.4" fill="#0b4a82"/>
<rect x="470.00" y="655.10" width="5.4" height="5.4" fill="#0b4a82"/>
<rect x="472.00" y="655.10" width="5.4" height="5.4" fill="#0b4a82"/>
<rect x="474.00" y="655.10" width="5.4" height="5.4" fill="#0b4a82"/>
<rect x="475.99" y="655.10" width="5.4" height="5.4" fill="#0b4a82"/>
<rect x="477.99" y="655.10" width="5.4" height="5.4" fill="#0b4a82"/>
<rect x="479.98" y="655.10" width="5.4" height="5.4" fill="#0b4a82"/>
<rect x="481.98" y="655.10" width="5.4" height="5.4" fill="#0b4a82"/>
<rect x="483.98" y="655.10" width="5.4" height="5.4" fill="#0b4a82"/>
<rect x="485.97" y="655.10" width="5.4" height="5.4" fill="#0b4a82"/>
<rect x="487.97" y="655.10" width="5.4" height="5.4" fill="#0b4a82"/>
<rect x="489.96" y="655.10" width="5.4" height="5.4" fill="#0b4a82"/>
<rect x="491.96" y="655.10" width="5.4" height="5.4" fill="#0b4a82"/>
<rect x="493.96" y="655.10" width="5.4" height="5.4" fill="#0b4a82"/>
<rect x="495.95" y="655.10" width="5.4" height="5.4" fill="#0b4a82"/>
<rect x="497.95" y="655.10" width="5.4" height="5.4" fill="#0b4a82"/>
<rect x="499.94" y="655.10" width="5.4" height="5.4" fill="#0b4a82"/>
<rect x="501.94" y="655.10" width="5.4" height="5.4" fill="#0b4a82"/>
<path d="M325.00,657.50L327.00,657.50L328.99,657.50L330.99,657.50L332.98,657.50L334.98,657.50L336.98,657.50L338.97,657.50L340.97,657.50L342.96,657.50L344.96,657.50L346.96,657.50L348.95,657.50L350.95,657.50L352.94,657.50L354.94,657.50L356.94,657.50L358.93,657.50L360.93,657.50L362.92,657.50L364.92,657.50L366.92,657.50L368.91,657.50L370.91,657.50L372.90,657.50L374.90,657.50L376.90,657.50L378.89,657.50L380.89,657.50L382.88,657.50L384.88,657.50L386.88,657.50L388.87,657.50L390.87,657.50L392.86,657.50L394.86,657.50L396.86,657.50L398.85,657.50L400.85,657.50L402.84,657.50L404.84,657.50L406.84,657.50L408.83,657.50L410.83,657.50L412.82,657.50L414.82,657.50L416.82,657.50L418.81,657.50L420.81,657.50L422.80,657.50L424.80,657.50L426.80,657.50L428.79,657.50L430.79,657.50L432.78,657.50L434.78,657.50L436.78,657.50L438.77,657.50L440.77,657.50L442.76,657.50L444.76,657.50L446.76,657.50L448.75,657.50L450.75,657.50L452.74,657.50L454.74,657.50L456.74,657.50L458.73,657.50L460.73,657.50L462.72,657.50L464.72,657.50L466.72,657.50L468.71,657.50L470.71,657.50L472.70,657.50L474.70,657.50L476.70,657.50L478.69,657.50L480.69,657.50L482.68,657.50L484.68,657.50L486.68,657.50L488.67,657.50L490.67,657.50L492.66,657.50L494.66,657.50L496.66,657.50L498.65,657.50L500.65,657.50L502.64,657.50L504.64,657.50" fill="none" stroke="#c4002a" stroke-width="1.1" stroke-linejoin="round"/>
<circle cx="325.00" cy="657.50" r="2.85" fill="#c4002a"/>
<circle cx="327.00" cy="657.50" r="2.85" fill="#c4002a"/>
<circle cx="328.99" cy="657.50" r="2.85" fill="#c4002a"/>
<circle cx="330.99" cy="657.50" r="2.85" fill="#c4002a"/>
<circle cx="332.98" cy="657.50" r="2.85" fill="#c4002a"/>
<circle cx="334.98" cy="657.50" r="2.85" fill="#c4002a"/>
<circle cx="336.98" cy="657.50" r="2.85" fill="#c4002a"/>
<circle cx="338.97" cy="657.50" r="2.85" fill="#c4002a"/>
<circle cx="340.97" cy="657.50" r="2.85" fill="#c4002a"/>
<circle cx="342.96" cy="657.50" r="2.85" fill="#c4002a"/>
<circle cx="344.96" cy="657.50" r="2.85" fill="#c4002a"/>
<circle cx="346.96" cy="657.50" r="2.85" fill="#c4002a"/>
<circle cx="348.95" cy="657.50" r="2.85" fill="#c4002a"/>
<circle cx="350.95" cy="657.50" r="2.85" fill="#c4002a"/>
<circle cx="352.94" cy="657.50" r="2.85" fill="#c4002a"/>
<circle cx="354.94" cy="657.50" r="2.85" fill="#c4002a"/>
<circle cx="356.94" cy="657.50" r="2.85" fill="#c4002a"/>
<circle cx="358.93" cy="657.50" r="2.85" fill="#c4002a"/>
<circle cx="360.93" cy="657.50" r="2.85" fill="#c4002a"/>
<circle cx="362.92" cy="657.50" r="2.85" fill="#c4002a"/>
<circle cx="364.92" cy="657.50" r="2.85" fill="#c4002a"/>
<circle cx="366.92" cy="657.50" r="2.85" fill="#c4002a"/>
<circle cx="368.91" cy="657.50" r="2.85" fill="#c4002a"/>
<circle cx="370.91" cy="657.50" r="2.85" fill="#c4002a"/>
<circle cx="372.90" cy="657.50" r="2.85" fill="#c4002a"/>
<circle cx="374.90" cy="657.50" r="2.85" fill="#c4002a"/>
<circle cx="376.90" cy="657.50" r="2.85" fill="#c4002a"/>
<circle cx="378.89" cy="657.50" r="2.85" fill="#c4002a"/>
<circle cx="380.89" cy="657.50" r="2.85" fill="#c4002a"/>
<circle cx="382.88" cy="657.50" r="2.85" fill="#c4002a"/>
<circle cx="384.88" cy="657.50" r="2.85" fill="#c4002a"/>
<circle cx="386.88" cy="657.50" r="2.85" fill="#c4002a"/>
<circle cx="388.87" cy="657.50" r="2.85" fill="#c4002a"/>
<circle cx="390.87" cy="657.50" r="2.85" fill="#c4002a"/>
<circle cx="392.86" cy="657.50" r="2.85" fill="#c4002a"/>
<circle cx="394.86" cy="657.50" r="2.85" fill="#c4002a"/>
<circle cx="396.86" cy="657.50" r="2.85" fill="#c4002a"/>
<circle cx="398.85" cy="657.50" r="2.85" fill="#c4002a"/>
<circle cx="400.85" cy="657.50" r="2.85" fill="#c4002a"/>
<circle cx="402.84" cy="657.50" r="2.85" fill="#c4002a"/>
<circle cx="404.84" cy="657.50" r="2.85" fill="#c4002a"/>
<circle cx="406.84" cy="657.50" r="2.85" fill="#c4002a"/>
<circle cx="408.83" cy="657.50" r="2.85" fill="#c4002a"/>
<circle cx="410.83" cy="657.50" r="2.85" fill="#c4002a"/>
<circle cx="412.82" cy="657.50" r="2.85" fill="#c4002a"/>
<circle cx="414.82" cy="657.50" r="2.85" fill="#c4002a"/>
<circle cx="416.82" cy="657.50" r="2.85" fill="#c4002a"/>
<circle cx="418.81" cy="657.50" r="2.85" fill="#c4002a"/>
<circle cx="420.81" cy="657.50" r="2.85" fill="#c4002a"/>
<circle cx="422.80" cy="657.50" r="2.85" fill="#c4002a"/>
<circle cx="424.80" cy="657.50" r="2.85" fill="#c4002a"/>
<circle cx="426.80" cy="657.50" r="2.85" fill="#c4002a"/>
<circle cx="428.79" cy="657.50" r="2.85" fill="#c4002a"/>
<circle cx="430.79" cy="657.50" r="2.85" fill="#c4002a"/>
<circle cx="432.78" cy="657.50" r="2.85" fill="#c4002a"/>
<circle cx="434.78" cy="657.50" r="2.85" fill="#c4002a"/>
<circle cx="436.78" cy="657.50" r="2.85" fill="#c4002a"/>
<circle cx="438.77" cy="657.50" r="2.85" fill="#c4002a"/>
<circle cx="440.77" cy="657.50" r="2.85" fill="#c4002a"/>
<circle cx="442.76" cy="657.50" r="2.85" fill="#c4002a"/>
<circle cx="444.76" cy="657.50" r="2.85" fill="#c4002a"/>
<circle cx="446.76" cy="657.50" r="2.85" fill="#c4002a"/>
<circle cx="448.75" cy="657.50" r="2.85" fill="#c4002a"/>
<circle cx="450.75" cy="657.50" r="2.85" fill="#c4002a"/>
<circle cx="452.74" cy="657.50" r="2.85" fill="#c4002a"/>
<circle cx="454.74" cy="657.50" r="2.85" fill="#c4002a"/>
<circle cx="456.74" cy="657.50" r="2.85" fill="#c4002a"/>
<circle cx="458.73" cy="657.50" r="2.85" fill="#c4002a"/>
<circle cx="460.73" cy="657.50" r="2.85" fill="#c4002a"/>
<circle cx="462.72" cy="657.50" r="2.85" fill="#c4002a"/>
<circle cx="464.72" cy="657.50" r="2.85" fill="#c4002a"/>
<circle cx="466.72" cy="657.50" r="2.85" fill="#c4002a"/>
<circle cx="468.71" cy="657.50" r="2.85" fill="#c4002a"/>
<circle cx="470.71" cy="657.50" r="2.85" fill="#c4002a"/>
<circle cx="472.70" cy="657.50" r="2.85" fill="#c4002a"/>
<circle cx="474.70" cy="657.50" r="2.85" fill="#c4002a"/>
<circle cx="476.70" cy="657.50" r="2.85" fill="#c4002a"/>
<circle cx="478.69" cy="657.50" r="2.85" fill="#c4002a"/>
<circle cx="480.69" cy="657.50" r="2.85" fill="#c4002a"/>
<circle cx="482.68" cy="657.50" r="2.85" fill="#c4002a"/>
<circle cx="484.68" cy="657.50" r="2.85" fill="#c4002a"/>
<circle cx="486.68" cy="657.50" r="2.85" fill="#c4002a"/>
<circle cx="488.67" cy="657.50" r="2.85" fill="#c4002a"/>
<circle cx="490.67" cy="657.50" r="2.85" fill="#c4002a"/>
<circle cx="492.66" cy="657.50" r="2.85" fill="#c4002a"/>
<circle cx="494.66" cy="657.50" r="2.85" fill="#c4002a"/>
<circle cx="496.66" cy="657.50" r="2.85" fill="#c4002a"/>
<circle cx="498.65" cy="657.50" r="2.85" fill="#c4002a"/>
<circle cx="500.65" cy="657.50" r="2.85" fill="#c4002a"/>
<circle cx="502.64" cy="657.50" r="2.85" fill="#c4002a"/>
<circle cx="504.64" cy="657.50" r="2.85" fill="#c4002a"/>
<path d="M325.00,658.79L327.00,658.79L328.99,658.79L330.99,658.79L332.98,658.79L334.98,658.79L336.98,658.79L338.97,658.79L340.97,658.79L342.96,658.79L344.96,658.79L346.96,658.79L348.95,658.79L350.95,658.79L352.94,658.79L354.94,658.79L356.94,658.79L358.93,658.79L360.93,658.79L362.92,658.79L364.92,658.79L366.92,658.79L368.91,658.79L370.91,658.79L372.90,658.79L374.90,658.79L376.90,658.79L378.89,658.79L380.89,658.79L382.88,658.79L384.88,658.79L386.88,658.79L388.87,658.79L390.87,658.79L392.86,658.79L394.86,658.79L396.86,658.79L398.85,658.79L400.85,658.79L402.84,658.79L404.84,658.79L406.84,658.79L408.83,658.79L410.83,658.79L412.82,658.79L414.82,658.79L416.82,658.79L418.81,658.79L420.81,658.79L422.80,658.79L424.80,658.79L426.80,658.79L428.79,658.79L430.79,658.79L432.78,658.79L434.78,658.79L436.78,658.79L438.77,658.79L440.77,658.79L442.76,658.79L444.76,658.79L446.76,658.79L448.75,658.79L450.75,658.79L452.74,658.79L454.74,658.79L456.74,658.79L458.73,658.79L460.73,658.79L462.72,658.79L464.72,658.79L466.72,658.79L468.71,658.79L470.71,658.79L472.70,658.79L474.70,658.79L476.70,658.79L478.69,658.79L480.69,658.79L482.68,658.79L484.68,658.79L486.68,658.79L488.67,658.79L490.67,658.79L492.66,658.79L494.66,658.79L496.66,658.79L498.65,658.79L500.65,658.79L502.64,658.79L504.64,658.79" fill="none" stroke="#62206f" stroke-width="1.1" stroke-linejoin="round"/>
<path d="M321.85,661.64L328.15,661.64L325.00,655.94Z" fill="#62206f"/>
<path d="M323.85,661.64L330.15,661.64L327.00,655.94Z" fill="#62206f"/>
<path d="M325.84,661.64L332.14,661.64L328.99,655.94Z" fill="#62206f"/>
<path d="M327.84,661.64L334.14,661.64L330.99,655.94Z" fill="#62206f"/>
<path d="M329.83,661.64L336.13,661.64L332.98,655.94Z" fill="#62206f"/>
<path d="M331.83,661.64L338.13,661.64L334.98,655.94Z" fill="#62206f"/>
<path d="M333.83,661.64L340.13,661.64L336.98,655.94Z" fill="#62206f"/>
<path d="M335.82,661.64L342.12,661.64L338.97,655.94Z" fill="#62206f"/>
<path d="M337.82,661.64L344.12,661.64L340.97,655.94Z" fill="#62206f"/>
<path d="M339.81,661.64L346.11,661.64L342.96,655.94Z" fill="#62206f"/>
<path d="M341.81,661.64L348.11,661.64L344.96,655.94Z" fill="#62206f"/>
<path d="M343.81,661.64L350.11,661.64L346.96,655.94Z" fill="#62206f"/>
<path d="M345.80,661.64L352.10,661.64L348.95,655.94Z" fill="#62206f"/>
<path d="M347.80,661.64L354.10,661.64L350.95,655.94Z" fill="#62206f"/>
<path d="M349.79,661.64L356.09,661.64L352.94,655.94Z" fill="#62206f"/>
<path d="M351.79,661.64L358.09,661.64L354.94,655.94Z" fill="#62206f"/>
<path d="M353.79,661.64L360.09,661.64L356.94,655.94Z" fill="#62206f"/>
<path d="M355.78,661.64L362.08,661.64L358.93,655.94Z" fill="#62206f"/>
<path d="M357.78,661.64L364.08,661.64L360.93,655.94Z" fill="#62206f"/>
<path d="M359.77,661.64L366.07,661.64L362.92,655.94Z" fill="#62206f"/>
<path d="M361.77,661.64L368.07,661.64L364.92,655.94Z" fill="#62206f"/>
<path d="M363.77,661.64L370.07,661.64L366.92,655.94Z" fill="#62206f"/>
<path d="M365.76,661.64L372.06,661.64L368.91,655.94Z" fill="#62206f"/>
<path d="M367.76,661.64L374.06,661.64L370.91,655.94Z" fill="#62206f"/>
<path d="M369.75,661.64L376.05,661.64L372.90,655.94Z" fill="#62206f"/>
<path d="M371.75,661.64L378.05,661.64L374.90,655.94Z" fill="#62206f"/>
<path d="M373.75,661.64L380.05,661.64L376.90,655.94Z" fill="#62206f"/>
<path d="M375.74,661.64L382.04,661.64L378.89,655.94Z" fill="#62206f"/>
<path d="M377.74,661.64L384.04,661.64L380.89,655.94Z" fill="#62206f"/>
<path d="M379.73,661.64L386.03,661.64L382.88,655.94Z" fill="#62206f"/>
<path d="M381.73,661.64L388.03,661.64L384.88,655.94Z" fill="#62206f"/>
<path d="M383.73,661.64L390.03,661.64L386.88,655.94Z" fill="#62206f"/>
<path d="M385.72,661.64L392.02,661.64L388.87,655.94Z" fill="#62206f"/>
<path d="M387.72,661.64L394.02,661.64L390.87,655.94Z" fill="#62206f"/>
<path d="M389.71,661.64L396.01,661.64L392.86,655.94Z" fill="#62206f"/>
<path d="M391.71,661.64L398.01,661.64L394.86,655.94Z" fill="#62206f"/>
<path d="M393.71,661.64L400.01,661.64L396.86,655.94Z" fill="#62206f"/>
<path d="M395.70,661.64L402.00,661.64L398.85,655.94Z" fill="#62206f"/>
<path d="M397.70,661.64L404.00,661.64L400.85,655.94Z" fill="#62206f"/>
<path d="M399.69,661.64L405.99,661.64L402.84,655.94Z" fill="#62206f"/>
<path d="M401.69,661.64L407.99,661.64L404.84,655.94Z" fill="#62206f"/>
<path d="M403.69,661.64L409.99,661.64L406.84,655.94Z" fill="#62206f"/>
<path d="M405.68,661.64L411.98,661.64L408.83,655.94Z" fill="#62206f"/>
<path d="M407.68,661.64L413.98,661.64L410.83,655.94Z" fill="#62206f"/>
<path d="M409.67,661.64L415.97,661.64L412.82,655.94Z" fill="#62206f"/>
<path d="M411.67,661.64L417.97,661.64L414.82,655.94Z" fill="#62206f"/>
<path d="M413.67,661.64L419.97,661.64L416.82,655.94Z" fill="#62206f"/>
<path d="M415.66,661.64L421.96,661.64L418.81,655.94Z" fill="#62206f"/>
<path d="M417.66,661.64L423.96,661.64L420.81,655.94Z" fill="#62206f"/>
<path d="M419.65,661.64L425.95,661.64L422.80,655.94Z" fill="#62206f"/>
<path d="M421.65,661.64L427.95,661.64L424.80,655.94Z" fill="#62206f"/>
<path d="M423.65,661.64L429.95,661.64L426.80,655.94Z" fill="#62206f"/>
<path d="M425.64,661.64L431.94,661.64L428.79,655.94Z" fill="#62206f"/>
<path d="M427.64,661.64L433.94,661.64L430.79,655.94Z" fill="#62206f"/>
<path d="M429.63,661.64L435.93,661.64L432.78,655.94Z" fill="#62206f"/>
<path d="M431.63,661.64L437.93,661.64L434.78,655.94Z" fill="#62206f"/>
<path d="M433.63,661.64L439.93,661.64L436.78,655.94Z" fill="#62206f"/>
<path d="M435.62,661.64L441.92,661.64L438.77,655.94Z" fill="#62206f"/>
<path d="M437.62,661.64L443.92,661.64L440.77,655.94Z" fill="#62206f"/>
<path d="M439.61,661.64L445.91,661.64L442.76,655.94Z" fill="#62206f"/>
<path d="M441.61,661.64L447.91,661.64L444.76,655.94Z" fill="#62206f"/>
<path d="M443.61,661.64L449.91,661.64L446.76,655.94Z" fill="#62206f"/>
<path d="M445.60,661.64L451.90,661.64L448.75,655.94Z" fill="#62206f"/>
<path d="M447.60,661.64L453.90,661.64L450.75,655.94Z" fill="#62206f"/>
<path d="M449.59,661.64L455.89,661.64L452.74,655.94Z" fill="#62206f"/>
<path d="M451.59,661.64L457.89,661.64L454.74,655.94Z" fill="#62206f"/>
<path d="M453.59,661.64L459.89,661.64L456.74,655.94Z" fill="#62206f"/>
<path d="M455.58,661.64L461.88,661.64L458.73,655.94Z" fill="#62206f"/>
<path d="M457.58,661.64L463.88,661.64L460.73,655.94Z" fill="#62206f"/>
<path d="M459.57,661.64L465.87,661.64L462.72,655.94Z" fill="#62206f"/>
<path d="M461.57,661.64L467.87,661.64L464.72,655.94Z" fill="#62206f"/>
<path d="M463.57,661.64L469.87,661.64L466.72,655.94Z" fill="#62206f"/>
<path d="M465.56,661.64L471.86,661.64L468.71,655.94Z" fill="#62206f"/>
<path d="M467.56,661.64L473.86,661.64L470.71,655.94Z" fill="#62206f"/>
<path d="M469.55,661.64L475.85,661.64L472.70,655.94Z" fill="#62206f"/>
<path d="M471.55,661.64L477.85,661.64L474.70,655.94Z" fill="#62206f"/>
<path d="M473.55,661.64L479.85,661.64L476.70,655.94Z" fill="#62206f"/>
<path d="M475.54,661.64L481.84,661.64L478.69,655.94Z" fill="#62206f"/>
<path d="M477.54,661.64L483.84,661.64L480.69,655.94Z" fill="#62206f"/>
<path d="M479.53,661.64L485.83,661.64L482.68,655.94Z" fill="#62206f"/>
<path d="M481.53,661.64L487.83,661.64L484.68,655.94Z" fill="#62206f"/>
<path d="M483.53,661.64L489.83,661.64L486.68,655.94Z" fill="#62206f"/>
<path d="M485.52,661.64L491.82,661.64L488.67,655.94Z" fill="#62206f"/>
<path d="M487.52,661.64L493.82,661.64L490.67,655.94Z" fill="#62206f"/>
<path d="M489.51,661.64L495.81,661.64L492.66,655.94Z" fill="#62206f"/>
<path d="M491.51,661.64L497.81,661.64L494.66,655.94Z" fill="#62206f"/>
<path d="M493.51,661.64L499.81,661.64L496.66,655.94Z" fill="#62206f"/>
<path d="M495.50,661.64L501.80,661.64L498.65,655.94Z" fill="#62206f"/>
<path d="M497.50,661.64L503.80,661.64L500.65,655.94Z" fill="#62206f"/>
<path d="M499.49,661.64L505.79,661.64L502.64,655.94Z" fill="#62206f"/>
<path d="M501.49,661.64L507.79,661.64L504.64,655.94Z" fill="#62206f"/>
<text transform="translate(284.20,599.00) rotate(-90)" x="0" y="0" font-size="11.5" font-weight="normal" stroke="#222222" stroke-width="0.4" text-anchor="middle" fill="#2a2a2a" textLength="36" lengthAdjust="spacingAndGlyphs">ETP (nM)</text>
<text x="393.90" y="692.40" font-size="11.8" font-weight="normal" stroke="#222222" stroke-width="0.4" fill="#2a2a2a" textLength="41.5" lengthAdjust="spacingAndGlyphs">Time (min)</text>
<line x1="390.2" y1="552.70" x2="407.7" y2="552.70" stroke="#0b4a82" stroke-width="1.5"/>
<rect x="395.95" y="549.70" width="6.0" height="6.0" fill="#0b4a82"/>
<text x="412.80" y="555.80" fill="#2a2a2a" stroke="#2a2a2a" stroke-width="0.12" text-anchor="start" ><tspan font-style="italic" font-size="8.90">Pitpβ</tspan><tspan font-style="italic" font-size="4.45" dy="-4.45" fill="#555" stroke="none">fl/fl</tspan><tspan font-style="italic" font-size="8.90" dy="4.45">Pf4Cre</tspan><tspan font-style="normal" font-size="5.34" dy="-4.45" stroke="none">−</tspan><tspan font-style="normal" font-size="8.90" dy="4.45"> PPP</tspan></text>
<line x1="390.2" y1="571.00" x2="407.7" y2="571.00" stroke="#c4002a" stroke-width="1.5"/>
<circle cx="398.95" cy="571.00" r="3.15" fill="#c4002a"/>
<text x="412.80" y="574.10" fill="#2a2a2a" stroke="#2a2a2a" stroke-width="0.12" text-anchor="start" ><tspan font-style="italic" font-size="8.90">Pitpβ</tspan><tspan font-style="italic" font-size="4.45" dy="-4.45" fill="#555" stroke="none">fl/fl</tspan><tspan font-style="italic" font-size="8.90" dy="4.45">Pf4Cre</tspan><tspan font-style="normal" font-size="5.34" dy="-4.45" stroke="none">+</tspan><tspan font-style="normal" font-size="8.90" dy="4.45"> PPP</tspan></text>
<line x1="390.2" y1="589.30" x2="407.7" y2="589.30" stroke="#62206f" stroke-width="1.5"/>
<path d="M395.50,592.45L402.40,592.45L398.95,586.15Z" fill="#62206f"/>
<text x="412.80" y="592.40" fill="#2a2a2a" stroke="#2a2a2a" stroke-width="0.12" text-anchor="start" ><tspan font-style="italic" font-size="8.90">Pitpα</tspan><tspan font-style="italic" font-size="4.45" dy="-4.45" fill="#555" stroke="none">fl/fl</tspan><tspan font-style="italic" font-size="8.90" dy="4.45">/β</tspan><tspan font-style="italic" font-size="4.45" dy="-4.45" fill="#555" stroke="none">fl/fl</tspan><tspan font-style="italic" font-size="8.90" dy="4.45">Pf4Cre</tspan><tspan font-style="normal" font-size="5.34" dy="-4.45" stroke="none">+</tspan><tspan font-style="normal" font-size="8.90" dy="4.45"> PPP</tspan></text>
<text x="269.80" y="24.10" font-size="17.2" text-anchor="start" fill="#111" font-weight="bold" font-style="normal" stroke="#111" stroke-width="0.4">B</text>
<line x1="325.2" y1="52.0" x2="325.2" y2="181.0" stroke="#111111" stroke-width="1.5"/>
<line x1="324.59999999999997" y1="180.5" x2="446.0" y2="180.5" stroke="#111111" stroke-width="1.5"/>
<line x1="320.9" y1="180.50" x2="325.2" y2="180.50" stroke="#111111" stroke-width="1.3"/>
<text transform="translate(316.80,184.40) scale(0.9,1)" x="0" y="0" font-size="10.3" text-anchor="end" fill="#2a2a2a" font-weight="normal" font-style="normal" letter-spacing="0.7" stroke="#2a2a2a" stroke-width="0.12">0</text>
<line x1="320.9" y1="155.65" x2="325.2" y2="155.65" stroke="#111111" stroke-width="1.3"/>
<text transform="translate(316.80,159.55) scale(0.9,1)" x="0" y="0" font-size="10.3" text-anchor="end" fill="#2a2a2a" font-weight="normal" font-style="normal" letter-spacing="0.7" stroke="#2a2a2a" stroke-width="0.12">1</text>
<line x1="320.9" y1="130.80" x2="325.2" y2="130.80" stroke="#111111" stroke-width="1.3"/>
<text transform="translate(316.80,134.70) scale(0.9,1)" x="0" y="0" font-size="10.3" text-anchor="end" fill="#2a2a2a" font-weight="normal" font-style="normal" letter-spacing="0.7" stroke="#2a2a2a" stroke-width="0.12">2</text>
<line x1="320.9" y1="105.95" x2="325.2" y2="105.95" stroke="#111111" stroke-width="1.3"/>
<text transform="translate(316.80,109.85) scale(0.9,1)" x="0" y="0" font-size="10.3" text-anchor="end" fill="#2a2a2a" font-weight="normal" font-style="normal" letter-spacing="0.7" stroke="#2a2a2a" stroke-width="0.12">3</text>
<line x1="320.9" y1="81.10" x2="325.2" y2="81.10" stroke="#111111" stroke-width="1.3"/>
<text transform="translate(316.80,85.00) scale(0.9,1)" x="0" y="0" font-size="10.3" text-anchor="end" fill="#2a2a2a" font-weight="normal" font-style="normal" letter-spacing="0.7" stroke="#2a2a2a" stroke-width="0.12">4</text>
<line x1="320.9" y1="56.25" x2="325.2" y2="56.25" stroke="#111111" stroke-width="1.3"/>
<text transform="translate(316.80,60.15) scale(0.9,1)" x="0" y="0" font-size="10.3" text-anchor="end" fill="#2a2a2a" font-weight="normal" font-style="normal" letter-spacing="0.7" stroke="#2a2a2a" stroke-width="0.12">5</text>
<line x1="324.60" y1="180.5" x2="324.60" y2="184.8" stroke="#111111" stroke-width="1.3"/>
<line x1="363.80" y1="180.5" x2="363.80" y2="184.8" stroke="#111111" stroke-width="1.3"/>
<line x1="403.00" y1="180.5" x2="403.00" y2="184.8" stroke="#111111" stroke-width="1.3"/>
<line x1="442.40" y1="180.5" x2="442.40" y2="184.8" stroke="#111111" stroke-width="1.3"/>
<rect x="336.50" y="80.35" width="15.60" height="100.15" fill="#0b4a82"/>
<line x1="344.30" y1="78.62" x2="344.30" y2="82.09" stroke="#111111" stroke-width="1.3"/>
<line x1="341.90" y1="78.62" x2="346.70" y2="78.62" stroke="#111111" stroke-width="1.3"/>
<line x1="341.90" y1="82.09" x2="346.70" y2="82.09" stroke="#111111" stroke-width="1.3"/>
<rect x="375.60" y="151.18" width="15.60" height="29.32" fill="#c4002a"/>
<line x1="383.40" y1="147.20" x2="383.40" y2="154.66" stroke="#111111" stroke-width="1.3"/>
<line x1="381.00" y1="147.20" x2="385.80" y2="147.20" stroke="#111111" stroke-width="1.3"/>
<line x1="381.00" y1="154.66" x2="385.80" y2="154.66" stroke="#111111" stroke-width="1.3"/>
<rect x="414.60" y="175.78" width="15.70" height="4.72" fill="#62206f"/>
<line x1="422.45" y1="174.29" x2="422.45" y2="177.27" stroke="#111111" stroke-width="1.3"/>
<line x1="420.05" y1="174.29" x2="424.85" y2="174.29" stroke="#111111" stroke-width="1.3"/>
<line x1="420.05" y1="177.27" x2="424.85" y2="177.27" stroke="#111111" stroke-width="1.3"/>
<path d="M344.40,74.00L344.40,67.70L381.50,67.70L381.50,74.00" fill="none" stroke="#111111" stroke-width="1.3"/>
<path d="M344.40,52.00L344.40,46.50L418.50,46.50L418.50,52.00" fill="none" stroke="#111111" stroke-width="1.3"/>
<text x="333.50" y="62.50" fill="#2a2a2a" stroke="#2a2a2a" stroke-width="0.12" text-anchor="start" letter-spacing="0.4"><tspan font-style="italic" font-size="8.70">P</tspan><tspan font-style="normal" font-size="8.70"> = 8.8 × 10</tspan><tspan font-style="normal" font-size="5.22" dy="-4.35" stroke="none">−6</tspan></text>
<text x="349.20" y="40.80" fill="#2a2a2a" stroke="#2a2a2a" stroke-width="0.12" text-anchor="start" letter-spacing="0.4"><tspan font-style="italic" font-size="8.70">P</tspan><tspan font-style="normal" font-size="8.70"> = 1.46 × 10</tspan><tspan font-style="normal" font-size="5.22" dy="-4.35" stroke="none">−7</tspan></text>
<text transform="translate(303.40,116.30) rotate(-90)" x="0" y="0" font-size="11.5" font-weight="normal" stroke="#222222" stroke-width="0.4" text-anchor="middle" fill="#2a2a2a" textLength="60" lengthAdjust="spacingAndGlyphs">ETP (×1000nM)</text>
<text x="0.00" y="0.00" fill="#2a2a2a" stroke="#2a2a2a" stroke-width="0.12" text-anchor="start" letter-spacing="0.12" transform="translate(339.50,194.00) rotate(45)"><tspan font-style="italic" font-size="8.80">Pitpβ</tspan><tspan font-style="italic" font-size="4.40" dy="-4.40" fill="#555" stroke="none">fl/fl</tspan><tspan font-style="italic" font-size="8.80" dy="4.40">Pf4-Cre</tspan><tspan font-style="normal" font-size="5.28" dy="-4.40" stroke="none">−</tspan></text>
<text x="0.00" y="0.00" fill="#2a2a2a" stroke="#2a2a2a" stroke-width="0.12" text-anchor="start" letter-spacing="0.12" transform="translate(378.70,194.00) rotate(45)"><tspan font-style="italic" font-size="8.80">Pitpβ</tspan><tspan font-style="italic" font-size="4.40" dy="-4.40" fill="#555" stroke="none">fl/fl</tspan><tspan font-style="italic" font-size="8.80" dy="4.40">Pf4-Cre</tspan><tspan font-style="normal" font-size="5.28" dy="-4.40" stroke="none">+</tspan></text>
<text x="0.00" y="0.00" fill="#2a2a2a" stroke="#2a2a2a" stroke-width="0.12" text-anchor="start" letter-spacing="0.12" transform="translate(417.90,194.00) rotate(45)"><tspan font-style="italic" font-size="8.80">Pitpα</tspan><tspan font-style="italic" font-size="4.40" dy="-4.40" fill="#555" stroke="none">fl/fl</tspan><tspan font-style="italic" font-size="8.80" dy="4.40">/β</tspan><tspan font-style="italic" font-size="4.40" dy="-4.40" fill="#555" stroke="none">fl/fl</tspan><tspan font-style="italic" font-size="8.80" dy="4.40">Pf4-Cre</tspan><tspan font-style="normal" font-size="5.28" dy="-4.40" stroke="none">+</tspan></text>
<text x="269.90" y="285.30" font-size="17.2" text-anchor="start" fill="#111" font-weight="bold" font-style="normal" stroke="#111" stroke-width="0.4">D</text>
<line x1="324.6" y1="304.4" x2="324.6" y2="428.9" stroke="#111111" stroke-width="1.5"/>
<line x1="324.0" y1="428.4" x2="444.5" y2="428.4" stroke="#111111" stroke-width="1.5"/>
<line x1="320.3" y1="428.40" x2="324.6" y2="428.40" stroke="#111111" stroke-width="1.3"/>
<text transform="translate(316.40,432.30) scale(0.9,1)" x="0" y="0" font-size="10.3" text-anchor="end" fill="#2a2a2a" font-weight="normal" font-style="normal" letter-spacing="0.7" stroke="#2a2a2a" stroke-width="0.12">0</text>
<line x1="320.3" y1="398.30" x2="324.6" y2="398.30" stroke="#111111" stroke-width="1.3"/>
<text transform="translate(316.40,402.20) scale(0.9,1)" x="0" y="0" font-size="10.3" text-anchor="end" fill="#2a2a2a" font-weight="normal" font-style="normal" letter-spacing="0.7" stroke="#2a2a2a" stroke-width="0.12">1</text>
<line x1="320.3" y1="368.20" x2="324.6" y2="368.20" stroke="#111111" stroke-width="1.3"/>
<text transform="translate(316.40,372.10) scale(0.9,1)" x="0" y="0" font-size="10.3" text-anchor="end" fill="#2a2a2a" font-weight="normal" font-style="normal" letter-spacing="0.7" stroke="#2a2a2a" stroke-width="0.12">2</text>
<line x1="320.3" y1="338.10" x2="324.6" y2="338.10" stroke="#111111" stroke-width="1.3"/>
<text transform="translate(316.40,342.00) scale(0.9,1)" x="0" y="0" font-size="10.3" text-anchor="end" fill="#2a2a2a" font-weight="normal" font-style="normal" letter-spacing="0.7" stroke="#2a2a2a" stroke-width="0.12">3</text>
<line x1="320.3" y1="308.00" x2="324.6" y2="308.00" stroke="#111111" stroke-width="1.3"/>
<text transform="translate(316.40,311.90) scale(0.9,1)" x="0" y="0" font-size="10.3" text-anchor="end" fill="#2a2a2a" font-weight="normal" font-style="normal" letter-spacing="0.7" stroke="#2a2a2a" stroke-width="0.12">4</text>
<line x1="324.50" y1="428.4" x2="324.50" y2="432.7" stroke="#111111" stroke-width="1.3"/>
<line x1="364.00" y1="428.4" x2="364.00" y2="432.7" stroke="#111111" stroke-width="1.3"/>
<line x1="403.30" y1="428.4" x2="403.30" y2="432.7" stroke="#111111" stroke-width="1.3"/>
<line x1="442.80" y1="428.4" x2="442.80" y2="432.7" stroke="#111111" stroke-width="1.3"/>
<rect x="336.80" y="343.52" width="15.60" height="84.88" fill="#0b4a82"/>
<line x1="344.60" y1="339.00" x2="344.60" y2="347.43" stroke="#111111" stroke-width="1.3"/>
<line x1="342.20" y1="339.00" x2="347.00" y2="339.00" stroke="#111111" stroke-width="1.3"/>
<line x1="342.20" y1="347.43" x2="347.00" y2="347.43" stroke="#111111" stroke-width="1.3"/>
<rect x="376.20" y="383.25" width="15.60" height="45.15" fill="#c4002a"/>
<line x1="384.00" y1="379.04" x2="384.00" y2="387.46" stroke="#111111" stroke-width="1.3"/>
<line x1="381.60" y1="379.04" x2="386.40" y2="379.04" stroke="#111111" stroke-width="1.3"/>
<line x1="381.60" y1="387.46" x2="386.40" y2="387.46" stroke="#111111" stroke-width="1.3"/>
<rect x="415.80" y="416.96" width="15.50" height="11.44" fill="#62206f"/>
<line x1="423.55" y1="415.46" x2="423.55" y2="419.07" stroke="#111111" stroke-width="1.3"/>
<line x1="421.15" y1="415.46" x2="425.95" y2="415.46" stroke="#111111" stroke-width="1.3"/>
<line x1="421.15" y1="419.07" x2="425.95" y2="419.07" stroke="#111111" stroke-width="1.3"/>
<path d="M344.20,334.20L344.20,327.70L380.80,327.70L380.80,334.20" fill="none" stroke="#111111" stroke-width="1.3"/>
<path d="M344.20,313.00L344.20,307.00L417.70,307.00L417.70,313.00" fill="none" stroke="#111111" stroke-width="1.3"/>
<text x="333.00" y="323.40" fill="#2a2a2a" stroke="#2a2a2a" stroke-width="0.12" text-anchor="start" letter-spacing="0.4"><tspan font-style="italic" font-size="8.70">P</tspan><tspan font-style="normal" font-size="8.70"> = 1.4 × 10</tspan><tspan font-style="normal" font-size="5.22" dy="-4.35" stroke="none">−6</tspan></text>
<text x="348.60" y="302.80" fill="#2a2a2a" stroke="#2a2a2a" stroke-width="0.12" text-anchor="start" letter-spacing="0.4"><tspan font-style="italic" font-size="8.70">P</tspan><tspan font-style="normal" font-size="8.70"> = 1.42 × 10</tspan><tspan font-style="normal" font-size="5.22" dy="-4.35" stroke="none">−7</tspan></text>
<text transform="translate(303.40,367.50) rotate(-90)" x="0" y="0" font-size="11.5" font-weight="normal" stroke="#222222" stroke-width="0.4" text-anchor="middle" fill="#2a2a2a" textLength="60" lengthAdjust="spacingAndGlyphs">ETP (×1000nM)</text>
<text x="0.00" y="0.00" fill="#2a2a2a" stroke="#2a2a2a" stroke-width="0.12" text-anchor="start" letter-spacing="0.12" transform="translate(339.20,442.30) rotate(45)"><tspan font-style="italic" font-size="8.80">Pitpβ</tspan><tspan font-style="italic" font-size="4.40" dy="-4.40" fill="#555" stroke="none">fl/fl</tspan><tspan font-style="italic" font-size="8.80" dy="4.40">Pf4-Cre</tspan><tspan font-style="normal" font-size="5.28" dy="-4.40" stroke="none">−</tspan></text>
<text x="0.00" y="0.00" fill="#2a2a2a" stroke="#2a2a2a" stroke-width="0.12" text-anchor="start" letter-spacing="0.12" transform="translate(378.50,442.30) rotate(45)"><tspan font-style="italic" font-size="8.80">Pitpβ</tspan><tspan font-style="italic" font-size="4.40" dy="-4.40" fill="#555" stroke="none">fl/fl</tspan><tspan font-style="italic" font-size="8.80" dy="4.40">Pf4-Cre</tspan><tspan font-style="normal" font-size="5.28" dy="-4.40" stroke="none">+</tspan></text>
<text x="0.00" y="0.00" fill="#2a2a2a" stroke="#2a2a2a" stroke-width="0.12" text-anchor="start" letter-spacing="0.12" transform="translate(417.80,442.30) rotate(45)"><tspan font-style="italic" font-size="8.80">Pitpα</tspan><tspan font-style="italic" font-size="4.40" dy="-4.40" fill="#555" stroke="none">fl/fl</tspan><tspan font-style="italic" font-size="8.80" dy="4.40">/β</tspan><tspan font-style="italic" font-size="4.40" dy="-4.40" fill="#555" stroke="none">fl/fl</tspan><tspan font-style="italic" font-size="8.80" dy="4.40">Pf4-Cre</tspan><tspan font-style="normal" font-size="5.28" dy="-4.40" stroke="none">+</tspan></text>
<text x="111.90" y="732.40" font-size="17.2" text-anchor="start" fill="#111" font-weight="bold" font-style="normal" stroke="#111" stroke-width="0.4">G</text>
<line x1="158.5" y1="735" x2="158.5" y2="943.5" stroke="#111111" stroke-width="1.5"/>
<line x1="157.9" y1="943.0" x2="320" y2="943.0" stroke="#111111" stroke-width="1.5"/>
<line x1="154.2" y1="943.00" x2="158.5" y2="943.00" stroke="#111111" stroke-width="1.1"/>
<text transform="translate(150.80,947.00) scale(0.9,1)" x="0" y="0" font-size="10.3" text-anchor="end" fill="#2a2a2a" font-weight="normal" font-style="normal" letter-spacing="1.2999999999999998" stroke="#2a2a2a" stroke-width="0.12">0</text>
<line x1="154.2" y1="909.00" x2="158.5" y2="909.00" stroke="#111111" stroke-width="1.1"/>
<text transform="translate(150.80,913.00) scale(0.9,1)" x="0" y="0" font-size="10.3" text-anchor="end" fill="#2a2a2a" font-weight="normal" font-style="normal" letter-spacing="1.2999999999999998" stroke="#2a2a2a" stroke-width="0.12">5</text>
<line x1="154.2" y1="875.00" x2="158.5" y2="875.00" stroke="#111111" stroke-width="1.1"/>
<text transform="translate(150.80,879.00) scale(0.9,1)" x="0" y="0" font-size="10.3" text-anchor="end" fill="#2a2a2a" font-weight="normal" font-style="normal" letter-spacing="1.2999999999999998" stroke="#2a2a2a" stroke-width="0.12">10</text>
<line x1="154.2" y1="841.00" x2="158.5" y2="841.00" stroke="#111111" stroke-width="1.1"/>
<text transform="translate(150.80,845.00) scale(0.9,1)" x="0" y="0" font-size="10.3" text-anchor="end" fill="#2a2a2a" font-weight="normal" font-style="normal" letter-spacing="1.2999999999999998" stroke="#2a2a2a" stroke-width="0.12">15</text>
<line x1="154.2" y1="807.00" x2="158.5" y2="807.00" stroke="#111111" stroke-width="1.1"/>
<text transform="translate(150.80,811.00) scale(0.9,1)" x="0" y="0" font-size="10.3" text-anchor="end" fill="#2a2a2a" font-weight="normal" font-style="normal" letter-spacing="1.2999999999999998" stroke="#2a2a2a" stroke-width="0.12">20</text>
<line x1="154.2" y1="773.00" x2="158.5" y2="773.00" stroke="#111111" stroke-width="1.1"/>
<text transform="translate(150.80,777.00) scale(0.9,1)" x="0" y="0" font-size="10.3" text-anchor="end" fill="#2a2a2a" font-weight="normal" font-style="normal" letter-spacing="1.2999999999999998" stroke="#2a2a2a" stroke-width="0.12">25</text>
<line x1="154.2" y1="739.00" x2="158.5" y2="739.00" stroke="#111111" stroke-width="1.1"/>
<text transform="translate(150.80,743.00) scale(0.9,1)" x="0" y="0" font-size="10.3" text-anchor="end" fill="#2a2a2a" font-weight="normal" font-style="normal" letter-spacing="1.2999999999999998" stroke="#2a2a2a" stroke-width="0.12">30</text>
<line x1="198.8" y1="943.0" x2="198.8" y2="947.3" stroke="#111111" stroke-width="1.1"/>
<line x1="279.2" y1="943.0" x2="279.2" y2="947.3" stroke="#111111" stroke-width="1.1"/>
<rect x="172.00" y="925.32" width="18.00" height="17.68" fill="#0b4a82"/>
<line x1="181.00" y1="920.22" x2="181.00" y2="930.49" stroke="#111111" stroke-width="1.3"/>
<line x1="178.60" y1="920.22" x2="183.40" y2="920.22" stroke="#111111" stroke-width="1.3"/>
<line x1="178.60" y1="930.49" x2="183.40" y2="930.49" stroke="#111111" stroke-width="1.3"/>
<rect x="190.00" y="919.20" width="18.00" height="23.80" fill="#c4002a"/>
<line x1="199.00" y1="905.60" x2="199.00" y2="931.92" stroke="#111111" stroke-width="1.3"/>
<line x1="196.60" y1="905.60" x2="201.40" y2="905.60" stroke="#111111" stroke-width="1.3"/>
<line x1="196.60" y1="931.92" x2="201.40" y2="931.92" stroke="#111111" stroke-width="1.3"/>
<rect x="208.00" y="926.68" width="17.80" height="16.32" fill="#62206f"/>
<line x1="216.90" y1="922.26" x2="216.90" y2="930.83" stroke="#111111" stroke-width="1.3"/>
<line x1="214.50" y1="922.26" x2="219.30" y2="922.26" stroke="#111111" stroke-width="1.3"/>
<line x1="214.50" y1="930.83" x2="219.30" y2="930.83" stroke="#111111" stroke-width="1.3"/>
<rect x="252.00" y="813.80" width="18.00" height="129.20" fill="#0b4a82"/>
<line x1="261.00" y1="779.80" x2="261.00" y2="849.16" stroke="#111111" stroke-width="1.3"/>
<line x1="258.60" y1="779.80" x2="263.40" y2="779.80" stroke="#111111" stroke-width="1.3"/>
<line x1="258.60" y1="849.16" x2="263.40" y2="849.16" stroke="#111111" stroke-width="1.3"/>
<rect x="270.00" y="870.24" width="18.00" height="72.76" fill="#c4002a"/>
<line x1="279.00" y1="856.64" x2="279.00" y2="885.20" stroke="#111111" stroke-width="1.3"/>
<line x1="276.60" y1="856.64" x2="281.40" y2="856.64" stroke="#111111" stroke-width="1.3"/>
<line x1="276.60" y1="885.20" x2="281.40" y2="885.20" stroke="#111111" stroke-width="1.3"/>
<rect x="288.00" y="897.44" width="18.00" height="45.56" fill="#62206f"/>
<line x1="297.00" y1="886.56" x2="297.00" y2="908.32" stroke="#111111" stroke-width="1.3"/>
<line x1="294.60" y1="886.56" x2="299.40" y2="886.56" stroke="#111111" stroke-width="1.3"/>
<line x1="294.60" y1="908.32" x2="299.40" y2="908.32" stroke="#111111" stroke-width="1.3"/>
<path d="M261.50,751.20L261.50,745.30L294.80,745.30L294.80,751.20" fill="none" stroke="#111111" stroke-width="1.3"/>
<path d="M261.50,773.60L261.50,770.20L278.40,770.20L278.40,773.60" fill="none" stroke="#111111" stroke-width="1.3"/>
<text x="261.00" y="740.20" fill="#2a2a2a" stroke="#2a2a2a" stroke-width="0.12" text-anchor="start" letter-spacing="0.4"><tspan font-style="italic" font-size="8.50">P</tspan><tspan font-style="normal" font-size="8.50"> = .017</tspan></text>
<text x="255.20" y="765.50" fill="#2a2a2a" stroke="#2a2a2a" stroke-width="0.12" text-anchor="start" letter-spacing="0.4"><tspan font-style="italic" font-size="8.50">P</tspan><tspan font-style="normal" font-size="8.50"> = .04</tspan></text>
<text x="198.80" y="959.60" font-size="9.3" text-anchor="middle" fill="#2a2a2a" font-weight="normal" font-style="normal"  stroke="#2a2a2a" stroke-width="0.12">Resting</text>
<text x="279.40" y="959.80" font-size="9.3" text-anchor="middle" fill="#2a2a2a" font-weight="normal" font-style="normal"  stroke="#2a2a2a" stroke-width="0.12">Activated</text>
<text transform="translate(131.20,838.80) rotate(-90)" x="0" y="0" font-size="11" font-weight="normal" stroke="#222222" stroke-width="0.4" text-anchor="middle" fill="#2a2a2a" textLength="109.5" lengthAdjust="spacingAndGlyphs">Percent of annexin V binding</text>
<rect x="323.8" y="819.80" width="6.5" height="6.5" fill="#0b4a82"/>
<text x="335.30" y="825.90" fill="#2a2a2a" stroke="#2a2a2a" stroke-width="0.12" text-anchor="start" ><tspan font-style="italic" font-size="9.20">Pitpα</tspan><tspan font-style="italic" font-size="4.60" dy="-4.60" fill="#555" stroke="none">fl/fl</tspan><tspan font-style="italic" font-size="9.20" dy="4.60">β</tspan><tspan font-style="italic" font-size="4.60" dy="-4.60" fill="#555" stroke="none">fl/fl</tspan><tspan font-style="italic" font-size="9.20" dy="4.60">Pf4·Cre</tspan><tspan font-style="normal" font-size="5.52" dy="-4.60" stroke="none">−</tspan></text>
<rect x="323.8" y="837.70" width="6.5" height="6.5" fill="#c4002a"/>
<text x="335.30" y="843.80" fill="#2a2a2a" stroke="#2a2a2a" stroke-width="0.12" text-anchor="start" ><tspan font-style="italic" font-size="9.20">Pitpβ</tspan><tspan font-style="italic" font-size="4.60" dy="-4.60" fill="#555" stroke="none">fl/fl</tspan><tspan font-style="italic" font-size="9.20" dy="4.60">Pf4·Cre</tspan><tspan font-style="normal" font-size="5.52" dy="-4.60" stroke="none">+</tspan></text>
<rect x="323.8" y="855.60" width="6.5" height="6.5" fill="#62206f"/>
<text x="335.30" y="861.70" fill="#2a2a2a" stroke="#2a2a2a" stroke-width="0.12" text-anchor="start" ><tspan font-style="italic" font-size="9.20">Pitpα</tspan><tspan font-style="italic" font-size="4.60" dy="-4.60" fill="#555" stroke="none">fl/fl</tspan><tspan font-style="italic" font-size="9.20" dy="4.60">β</tspan><tspan font-style="italic" font-size="4.60" dy="-4.60" fill="#555" stroke="none">fl/fl</tspan><tspan font-style="italic" font-size="9.20" dy="4.60">Pf4·Cre</tspan><tspan font-style="normal" font-size="5.52" dy="-4.60" stroke="none">+</tspan></text>
</g>
</svg>
<div class="frame"></div>
</body></html>
